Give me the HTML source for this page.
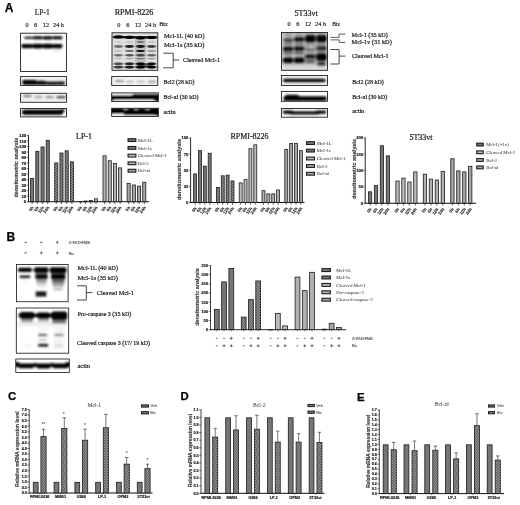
<!DOCTYPE html>
<html><head><meta charset="utf-8"><title>Figure</title>
<style>html,body{margin:0;padding:0;background:#fff;}svg{display:block;}</style>
</head><body>
<svg width="520" height="505" viewBox="0 0 520 505">
<defs>
<linearGradient id="gv" x1="0" y1="0" x2="0" y2="1"><stop offset="0" stop-color="#000" stop-opacity="0"/><stop offset="0.3" stop-color="#000" stop-opacity="1"/><stop offset="0.7" stop-color="#000" stop-opacity="1"/><stop offset="1" stop-color="#000" stop-opacity="0"/></linearGradient>
<radialGradient id="gr" cx="0.5" cy="0.5" r="0.5"><stop offset="0" stop-color="#000" stop-opacity="1"/><stop offset="0.55" stop-color="#000" stop-opacity="1"/><stop offset="1" stop-color="#000" stop-opacity="0"/></radialGradient>
<radialGradient id="gs" cx="0.5" cy="0.5" r="0.5"><stop offset="0" stop-color="#000" stop-opacity="1"/><stop offset="1" stop-color="#000" stop-opacity="0"/></radialGradient>
<radialGradient id="gw" cx="0.5" cy="0.5" r="0.5"><stop offset="0" stop-color="#fff" stop-opacity="1"/><stop offset="1" stop-color="#fff" stop-opacity="0"/></radialGradient>
<pattern id="chk" width="1.6" height="1.6" patternUnits="userSpaceOnUse"><rect width="1.6" height="1.6" fill="#b8b8b8"/><rect width="0.8" height="0.8" fill="#3a3a3a"/><rect x="0.8" y="0.8" width="0.8" height="0.8" fill="#3a3a3a"/></pattern>
<clipPath id="c1"><rect x="20.6" y="33.2" width="45.800000000000004" height="38.3"/></clipPath>
<filter id="fc1" filterUnits="userSpaceOnUse" x="14.600000000000001" y="27.200000000000003" width="57.800000000000004" height="50.3"><feGaussianBlur stdDeviation="1"/></filter>
<clipPath id="c2"><rect x="20.6" y="76.6" width="45.9" height="9.0"/></clipPath>
<filter id="fc2" filterUnits="userSpaceOnUse" x="14.600000000000001" y="70.6" width="57.9" height="21.0"><feGaussianBlur stdDeviation="1"/></filter>
<clipPath id="c3"><rect x="20.6" y="93.25" width="45.9" height="9.0"/></clipPath>
<filter id="fc3" filterUnits="userSpaceOnUse" x="14.600000000000001" y="87.25" width="57.9" height="21.0"><feGaussianBlur stdDeviation="1"/></filter>
<clipPath id="c4"><rect x="20.6" y="108.5" width="45.9" height="8.400000000000006"/></clipPath>
<filter id="fc4" filterUnits="userSpaceOnUse" x="14.600000000000001" y="102.5" width="57.9" height="20.400000000000006"><feGaussianBlur stdDeviation="1"/></filter>
<clipPath id="c5"><rect x="112.0" y="32.8" width="45.80000000000001" height="37.5"/></clipPath>
<clipPath id="c6"><rect x="111.7" y="76.6" width="46.10000000000001" height="8.800000000000011"/></clipPath>
<filter id="fc6" filterUnits="userSpaceOnUse" x="105.7" y="70.6" width="58.10000000000001" height="20.80000000000001"><feGaussianBlur stdDeviation="1"/></filter>
<clipPath id="c7"><rect x="111.7" y="92.9" width="46.60000000000001" height="8.699999999999989"/></clipPath>
<filter id="fc7" filterUnits="userSpaceOnUse" x="105.7" y="86.9" width="58.60000000000001" height="20.69999999999999"><feGaussianBlur stdDeviation="1"/></filter>
<clipPath id="c8"><rect x="111.7" y="108.25" width="46.60000000000001" height="8.25"/></clipPath>
<filter id="fc8" filterUnits="userSpaceOnUse" x="105.7" y="102.25" width="58.60000000000001" height="20.25"><feGaussianBlur stdDeviation="1"/></filter>
<clipPath id="c9"><rect x="281.5" y="32.5" width="46.0" height="37.8"/></clipPath>
<filter id="fc9" filterUnits="userSpaceOnUse" x="275.5" y="26.5" width="58.0" height="49.8"><feGaussianBlur stdDeviation="1"/></filter>
<clipPath id="c10"><rect x="281.4" y="75.5" width="46.10000000000002" height="9.900000000000006"/></clipPath>
<filter id="fc10" filterUnits="userSpaceOnUse" x="275.4" y="69.5" width="58.10000000000002" height="21.900000000000006"><feGaussianBlur stdDeviation="1"/></filter>
<clipPath id="c11"><rect x="281.4" y="91.4" width="46.10000000000002" height="9.899999999999991"/></clipPath>
<filter id="fc11" filterUnits="userSpaceOnUse" x="275.4" y="85.4" width="58.10000000000002" height="21.89999999999999"><feGaussianBlur stdDeviation="1"/></filter>
<clipPath id="c12"><rect x="281.4" y="108.5" width="46.10000000000002" height="8.700000000000003"/></clipPath>
<filter id="fc12" filterUnits="userSpaceOnUse" x="275.4" y="102.5" width="58.10000000000002" height="20.700000000000003"><feGaussianBlur stdDeviation="1"/></filter>
<clipPath id="c13"><rect x="16.5" y="264.5" width="51.599999999999994" height="37.25"/></clipPath>
<filter id="fc13" filterUnits="userSpaceOnUse" x="10.5" y="258.5" width="63.599999999999994" height="49.25"><feGaussianBlur stdDeviation="1"/></filter>
<clipPath id="c14"><rect x="16.3" y="308" width="52.400000000000006" height="45.19999999999999"/></clipPath>
<filter id="fc14" filterUnits="userSpaceOnUse" x="10.3" y="302" width="64.4" height="57.19999999999999"><feGaussianBlur stdDeviation="1"/></filter>
<clipPath id="c15"><rect x="15.8" y="359" width="53.5" height="13.399999999999977"/></clipPath>
<filter id="fc15" filterUnits="userSpaceOnUse" x="9.8" y="353" width="65.5" height="25.399999999999977"><feGaussianBlur stdDeviation="1"/></filter>
</defs>
<rect width="520" height="505" fill="#fff"/>
<text x="4.8" y="12.3" font-family='"Liberation Sans", sans-serif' font-size="12" font-weight="bold" text-anchor="start" fill="#000" stroke="#000" stroke-width="0.25">A</text>
<text x="6.5" y="240.8" font-family='"Liberation Sans", sans-serif' font-size="12" font-weight="bold" text-anchor="start" fill="#000" stroke="#000" stroke-width="0.25">B</text>
<text x="8.1" y="400.1" font-family='"Liberation Sans", sans-serif' font-size="11.4" font-weight="bold" text-anchor="start" fill="#000" stroke="#000" stroke-width="0.25">C</text>
<text x="180.6" y="400.3" font-family='"Liberation Sans", sans-serif' font-size="11.4" font-weight="bold" text-anchor="start" fill="#000" stroke="#000" stroke-width="0.25">D</text>
<text x="356.9" y="400.8" font-family='"Liberation Sans", sans-serif' font-size="11.4" font-weight="bold" text-anchor="start" fill="#000" stroke="#000" stroke-width="0.25">E</text>
<text x="42.2" y="15" font-family='"Liberation Serif", serif' font-size="8" font-weight="normal" text-anchor="middle" fill="#222" stroke="#222" stroke-width="0.22" textLength="15" lengthAdjust="spacingAndGlyphs">LP-1</text>
<text x="134" y="15" font-family='"Liberation Serif", serif' font-size="8" font-weight="normal" text-anchor="middle" fill="#222" stroke="#222" stroke-width="0.22" textLength="38.5" lengthAdjust="spacingAndGlyphs">RPMI-8226</text>
<text x="306.1" y="15.6" font-family='"Liberation Serif", serif' font-size="8" font-weight="normal" text-anchor="middle" fill="#222" stroke="#222" stroke-width="0.22" textLength="23" lengthAdjust="spacingAndGlyphs">5T33vt</text>
<text x="27" y="27.3" font-family='"Liberation Serif", serif' font-size="6.3" font-weight="normal" text-anchor="middle" fill="#333" stroke="#333" stroke-width="0.22">0</text>
<text x="35.5" y="27.3" font-family='"Liberation Serif", serif' font-size="6.3" font-weight="normal" text-anchor="middle" fill="#333" stroke="#333" stroke-width="0.22">6</text>
<text x="46" y="27.3" font-family='"Liberation Serif", serif' font-size="6.3" font-weight="normal" text-anchor="middle" fill="#333" stroke="#333" stroke-width="0.22">12</text>
<text x="58.5" y="27.3" font-family='"Liberation Serif", serif' font-size="6.3" font-weight="normal" text-anchor="middle" fill="#333" stroke="#333" stroke-width="0.22">24 h</text>
<text x="118.8" y="27.3" font-family='"Liberation Serif", serif' font-size="6.3" font-weight="normal" text-anchor="middle" fill="#333" stroke="#333" stroke-width="0.22">0</text>
<text x="127.8" y="27.3" font-family='"Liberation Serif", serif' font-size="6.3" font-weight="normal" text-anchor="middle" fill="#333" stroke="#333" stroke-width="0.22">6</text>
<text x="138.1" y="27.3" font-family='"Liberation Serif", serif' font-size="6.3" font-weight="normal" text-anchor="middle" fill="#333" stroke="#333" stroke-width="0.22">12</text>
<text x="150.6" y="27.3" font-family='"Liberation Serif", serif' font-size="6.3" font-weight="normal" text-anchor="middle" fill="#333" stroke="#333" stroke-width="0.22">24 h</text>
<text x="289" y="26.4" font-family='"Liberation Serif", serif' font-size="6.3" font-weight="normal" text-anchor="middle" fill="#333" stroke="#333" stroke-width="0.22">0</text>
<text x="297.8" y="26.4" font-family='"Liberation Serif", serif' font-size="6.3" font-weight="normal" text-anchor="middle" fill="#333" stroke="#333" stroke-width="0.22">6</text>
<text x="308.1" y="26.4" font-family='"Liberation Serif", serif' font-size="6.3" font-weight="normal" text-anchor="middle" fill="#333" stroke="#333" stroke-width="0.22">12</text>
<text x="320.6" y="26.4" font-family='"Liberation Serif", serif' font-size="6.3" font-weight="normal" text-anchor="middle" fill="#333" stroke="#333" stroke-width="0.22">24 h</text>
<text x="159.2" y="25.7" font-family='"Liberation Serif", serif' font-size="6.2" font-weight="normal" text-anchor="start" fill="#333" stroke="#333" stroke-width="0.22" textLength="8.6" lengthAdjust="spacingAndGlyphs">Btz</text>
<text x="332.3" y="26.3" font-family='"Liberation Serif", serif' font-size="5.8" font-weight="normal" text-anchor="start" fill="#333" stroke="#333" stroke-width="0.22" textLength="7.8" lengthAdjust="spacingAndGlyphs">Btz</text>
<g clip-path="url(#c1)">
<rect x="20.60" y="33.20" width="45.80" height="38.30" fill="#fff" stroke="none" stroke-width="0"/>
<g filter="url(#fc1)">
<rect x="24.20" y="36.80" width="8.30" height="2.00" rx="0.60" fill="#000" opacity="0.85"/>
<rect x="33.20" y="36.30" width="9.00" height="3.00" rx="0.90" fill="#000" opacity="1.0"/>
<rect x="43.00" y="36.20" width="9.30" height="3.20" rx="0.96" fill="#000" opacity="1.0"/>
<rect x="53.00" y="36.30" width="9.30" height="3.00" rx="0.90" fill="#000" opacity="1.0"/>
<rect x="25.00" y="37.00" width="36.00" height="1.60" rx="0.48" fill="#000" opacity="0.9"/>
<rect x="21.50" y="43.90" width="10.80" height="4.40" rx="1.32" fill="#000" opacity="1.0"/>
<rect x="32.90" y="43.80" width="9.40" height="4.60" rx="1.38" fill="#000" opacity="1.0"/>
<rect x="42.90" y="43.80" width="9.60" height="4.60" rx="1.38" fill="#000" opacity="1.0"/>
<rect x="53.00" y="44.00" width="9.30" height="4.20" rx="1.26" fill="#000" opacity="1.0"/>
<rect x="22.00" y="44.40" width="40.00" height="3.40" rx="1.02" fill="#000" opacity="1.0"/>
<rect x="53.00" y="49.50" width="8.00" height="2.00" rx="0.60" fill="#000" opacity="0.1"/>
</g>
</g>
<rect x="20.60" y="33.20" width="45.80" height="38.30" fill="none" stroke="#111" stroke-width="0.85"/>
<g clip-path="url(#c2)">
<rect x="20.60" y="76.60" width="45.90" height="9.00" fill="#fff" stroke="none" stroke-width="0"/>
<g filter="url(#fc2)">
<rect x="22.50" y="81.70" width="42.00" height="3.00" rx="0.90" fill="#000" opacity="1.0"/>
<rect x="22.50" y="79.90" width="14.00" height="4.60" rx="1.38" fill="#000" opacity="1.0"/>
<rect x="36.50" y="80.70" width="9.00" height="3.80" rx="1.14" fill="#000" opacity="0.9"/>
<rect x="48.00" y="82.10" width="8.00" height="2.60" rx="0.78" fill="#000" opacity="0.9"/>
<rect x="58.00" y="81.70" width="7.00" height="2.60" rx="0.78" fill="#000" opacity="0.9"/>
<rect x="13.50" y="78.00" width="60.00" height="3.00" rx="0.90" fill="#000" opacity="0.08"/>
</g>
</g>
<rect x="20.60" y="76.60" width="45.90" height="9.00" fill="none" stroke="#111" stroke-width="0.85"/>
<g clip-path="url(#c3)">
<rect x="20.60" y="93.25" width="45.90" height="9.00" fill="#fff" stroke="none" stroke-width="0"/>
<g filter="url(#fc3)">
<rect x="23.50" y="95.20" width="8.00" height="1.80" rx="0.54" fill="#000" opacity="0.6"/>
<rect x="34.75" y="96.30" width="7.50" height="1.60" rx="0.48" fill="#000" opacity="0.4"/>
<rect x="45.50" y="96.30" width="8.00" height="1.60" rx="0.48" fill="#000" opacity="0.5"/>
<rect x="56.50" y="95.90" width="9.00" height="2.40" rx="0.72" fill="#000" opacity="0.7"/>
<rect x="13.50" y="87.50" width="60.00" height="20.00" fill="#000" opacity="0.05"/>
</g>
</g>
<rect x="20.60" y="93.25" width="45.90" height="9.00" fill="none" stroke="#111" stroke-width="0.85"/>
<g clip-path="url(#c4)">
<rect x="20.60" y="108.50" width="45.90" height="8.40" fill="#fff" stroke="none" stroke-width="0"/>
<g filter="url(#fc4)">
<rect x="22.00" y="110.00" width="41.00" height="4.60" rx="1.38" fill="#000" opacity="1.0"/>
<rect x="23.50" y="109.60" width="38.00" height="5.40" rx="1.62" fill="#000" opacity="0.7"/>
<rect x="60.25" y="109.30" width="4.50" height="2.60" rx="0.78" fill="#000" opacity="1.0"/>
</g>
</g>
<rect x="20.60" y="108.50" width="45.90" height="8.40" fill="none" stroke="#111" stroke-width="0.85"/>
<g clip-path="url(#c5)">
<rect x="112.00" y="32.80" width="45.80" height="37.50" fill="#fff" stroke="none" stroke-width="0"/>
<rect x="111.50" y="33.00" width="47.00" height="38.00" fill="#000" opacity="0.13"/>
<rect x="113.25" y="35.80" width="43.50" height="3.00" fill="url(#gv)" opacity="0.9"/>
<rect x="111.90" y="34.80" width="13.20" height="4.20" fill="url(#gr)" opacity="1.0"/>
<rect x="122.90" y="35.20" width="13.20" height="4.20" fill="url(#gr)" opacity="1.0"/>
<rect x="133.90" y="35.80" width="13.20" height="4.20" fill="url(#gr)" opacity="1.0"/>
<rect x="144.90" y="35.40" width="13.20" height="4.20" fill="url(#gr)" opacity="1.0"/>
<rect x="135.00" y="37.00" width="11.00" height="34.00" rx="3.30" fill="#000" opacity="0.13"/>
<rect x="112.72" y="44.50" width="11.55" height="3.80" fill="url(#gr)" opacity="0.5"/>
<rect x="113.00" y="49.40" width="11.00" height="3.00" fill="url(#gr)" opacity="0.12"/>
<rect x="112.72" y="53.70" width="11.55" height="3.20" fill="url(#gr)" opacity="0.5"/>
<rect x="113.00" y="57.40" width="11.00" height="2.40" fill="url(#gr)" opacity="0.15"/>
<rect x="112.45" y="62.00" width="12.10" height="3.60" fill="url(#gr)" opacity="0.65"/>
<rect x="112.17" y="65.20" width="12.65" height="3.80" fill="url(#gr)" opacity="0.75"/>
<rect x="113.55" y="40.90" width="9.90" height="2.20" fill="url(#gr)" opacity="0.08"/>
<rect x="123.72" y="44.50" width="11.55" height="3.80" fill="url(#gr)" opacity="0.85"/>
<rect x="124.00" y="49.40" width="11.00" height="3.00" fill="url(#gr)" opacity="0.5"/>
<rect x="123.72" y="53.70" width="11.55" height="3.20" fill="url(#gr)" opacity="0.6"/>
<rect x="124.00" y="57.40" width="11.00" height="2.40" fill="url(#gr)" opacity="0.25"/>
<rect x="123.45" y="62.00" width="12.10" height="3.60" fill="url(#gr)" opacity="0.85"/>
<rect x="123.17" y="65.20" width="12.65" height="3.80" fill="url(#gr)" opacity="0.9"/>
<rect x="124.55" y="40.90" width="9.90" height="2.20" fill="url(#gr)" opacity="0.12"/>
<rect x="134.72" y="44.50" width="11.55" height="3.80" fill="url(#gr)" opacity="0.9"/>
<rect x="135.00" y="49.40" width="11.00" height="3.00" fill="url(#gr)" opacity="0.9"/>
<rect x="134.72" y="53.70" width="11.55" height="3.20" fill="url(#gr)" opacity="0.65"/>
<rect x="135.00" y="57.40" width="11.00" height="2.40" fill="url(#gr)" opacity="0.35"/>
<rect x="134.45" y="62.00" width="12.10" height="3.60" fill="url(#gr)" opacity="1.0"/>
<rect x="134.18" y="65.20" width="12.65" height="3.80" fill="url(#gr)" opacity="1.0"/>
<rect x="135.55" y="40.90" width="9.90" height="2.20" fill="url(#gr)" opacity="0.4"/>
<rect x="145.72" y="44.50" width="11.55" height="3.80" fill="url(#gr)" opacity="0.7"/>
<rect x="146.00" y="49.40" width="11.00" height="3.00" fill="url(#gr)" opacity="0.3"/>
<rect x="145.72" y="53.70" width="11.55" height="3.20" fill="url(#gr)" opacity="0.55"/>
<rect x="146.00" y="57.40" width="11.00" height="2.40" fill="url(#gr)" opacity="0.3"/>
<rect x="145.45" y="62.00" width="12.10" height="3.60" fill="url(#gr)" opacity="0.9"/>
<rect x="145.18" y="65.20" width="12.65" height="3.80" fill="url(#gr)" opacity="1.0"/>
<rect x="146.55" y="40.90" width="9.90" height="2.20" fill="url(#gr)" opacity="0.12"/>
<rect x="135.50" y="63.00" width="20.00" height="5.00" fill="url(#gr)" opacity="0.55"/>
</g>
<rect x="112.00" y="32.80" width="45.80" height="37.50" fill="none" stroke="#111" stroke-width="0.85"/>
<g clip-path="url(#c6)">
<rect x="111.70" y="76.60" width="46.10" height="8.80" fill="#fff" stroke="none" stroke-width="0"/>
<g filter="url(#fc6)">
<rect x="115.25" y="80.35" width="8.50" height="1.70" rx="0.51" fill="#000" opacity="0.5"/>
<rect x="126.00" y="80.85" width="8.00" height="1.70" rx="0.51" fill="#000" opacity="0.3"/>
<rect x="137.00" y="80.85" width="8.00" height="1.70" rx="0.51" fill="#000" opacity="0.3"/>
<rect x="148.00" y="80.85" width="8.00" height="1.70" rx="0.51" fill="#000" opacity="0.45"/>
<rect x="105.00" y="71.50" width="60.00" height="20.00" fill="#000" opacity="0.04"/>
</g>
</g>
<rect x="111.70" y="76.60" width="46.10" height="8.80" fill="none" stroke="#111" stroke-width="0.85"/>
<g clip-path="url(#c7)">
<rect x="111.70" y="92.90" width="46.60" height="8.70" fill="#fff" stroke="none" stroke-width="0"/>
<g filter="url(#fc7)">
<rect x="105.00" y="94.70" width="60.00" height="5.40" rx="1.62" fill="#000" opacity="1.0"/>
<rect x="130.00" y="96.30" width="30.00" height="5.00" rx="1.50" fill="#000" opacity="1.0"/>
<rect x="105.00" y="93.70" width="60.00" height="7.40" rx="2.22" fill="#000" opacity="0.5"/>
<rect x="111.00" y="92.50" width="21.00" height="2.60" rx="0.78" fill="#fff" opacity="1.0"/>
<rect x="114.00" y="100.00" width="40.00" height="2.00" rx="0.60" fill="#fff" opacity="1.0"/>
</g>
</g>
<rect x="111.70" y="92.90" width="46.60" height="8.70" fill="none" stroke="#111" stroke-width="0.85"/>
<g clip-path="url(#c8)">
<rect x="111.70" y="108.25" width="46.60" height="8.25" fill="#fff" stroke="none" stroke-width="0"/>
<g filter="url(#fc8)">
<rect x="105.00" y="108.30" width="60.00" height="6.60" rx="1.98" fill="#000" opacity="1.0"/>
<rect x="105.00" y="107.10" width="60.00" height="9.00" rx="2.70" fill="#000" opacity="0.55"/>
<rect x="124.10" y="108.10" width="3.00" height="1.40" rx="0.42" fill="#fff" opacity="0.9"/>
<rect x="134.70" y="108.10" width="3.00" height="1.40" rx="0.42" fill="#fff" opacity="0.9"/>
<rect x="146.00" y="108.10" width="3.00" height="1.40" rx="0.42" fill="#fff" opacity="0.9"/>
<rect x="110.00" y="114.10" width="14.00" height="3.40" rx="1.02" fill="#fff" opacity="1.0"/>
<rect x="121.00" y="115.60" width="34.00" height="1.60" rx="0.48" fill="#fff" opacity="0.9"/>
</g>
</g>
<rect x="111.70" y="108.25" width="46.60" height="8.25" fill="none" stroke="#111" stroke-width="0.85"/>
<text x="164" y="37.7" font-family='"Liberation Serif", serif' font-size="6.5" font-weight="normal" text-anchor="start" fill="#222" stroke="#222" stroke-width="0.22" textLength="40.5" lengthAdjust="spacingAndGlyphs">Mcl-1L (40 kD)</text>
<text x="164" y="47" font-family='"Liberation Serif", serif' font-size="6.5" font-weight="normal" text-anchor="start" fill="#222" stroke="#222" stroke-width="0.22" textLength="40.5" lengthAdjust="spacingAndGlyphs">Mcl-1s  (35 kD)</text>
<text x="183" y="62.4" font-family='"Liberation Serif", serif' font-size="6.5" font-weight="normal" text-anchor="start" fill="#222" stroke="#222" stroke-width="0.22" textLength="37" lengthAdjust="spacingAndGlyphs">Cleaved Mcl-1</text>
<text x="163.5" y="84.2" font-family='"Liberation Serif", serif' font-size="5.8" font-weight="normal" text-anchor="start" fill="#222" stroke="#222" stroke-width="0.22" textLength="31" lengthAdjust="spacingAndGlyphs">Bcl2 (28 kD)</text>
<text x="163.5" y="99" font-family='"Liberation Serif", serif' font-size="5.8" font-weight="normal" text-anchor="start" fill="#222" stroke="#222" stroke-width="0.22" textLength="35" lengthAdjust="spacingAndGlyphs">Bcl-xl (30 kD)</text>
<text x="163.5" y="114" font-family='"Liberation Serif", serif' font-size="5.8" font-weight="normal" text-anchor="start" fill="#222" stroke="#222" stroke-width="0.22" textLength="12" lengthAdjust="spacingAndGlyphs">actin</text>
<path d="M163.2 53.2 H173.2 V67.8 H163.2 M173.2 60 H179.3" fill="none" stroke="#333" stroke-width="0.9"/>
<g clip-path="url(#c9)">
<rect x="281.50" y="32.50" width="46.00" height="37.80" fill="#fff" stroke="none" stroke-width="0"/>
<g filter="url(#fc9)">
<rect x="274.50" y="26.00" width="60.00" height="50.00" fill="#000" opacity="0.36"/>
<rect x="274.50" y="65.80" width="60.00" height="5.60" rx="1.68" fill="#fff" opacity="0.6"/>
<rect x="279.50" y="26.00" width="4.00" height="50.00" rx="1.20" fill="#fff" opacity="0.45"/>
<rect x="326.25" y="26.00" width="3.50" height="50.00" rx="1.05" fill="#fff" opacity="0.4"/>
<rect x="282.96" y="38.60" width="10.21" height="3.40" rx="1.02" fill="#000" opacity="0.6"/>
<rect x="293.51" y="37.20" width="11.35" height="4.20" rx="1.26" fill="#000" opacity="0.9"/>
<rect x="304.64" y="35.30" width="11.35" height="6.60" rx="1.98" fill="#000" opacity="1.0"/>
<rect x="315.76" y="35.30" width="11.35" height="6.60" rx="1.98" fill="#000" opacity="1.0"/>
<rect x="282.39" y="43.20" width="11.35" height="2.00" rx="0.60" fill="#000" opacity="0.25"/>
<rect x="293.51" y="43.20" width="11.35" height="2.00" rx="0.60" fill="#000" opacity="0.25"/>
<rect x="304.64" y="43.20" width="11.35" height="2.00" rx="0.60" fill="#000" opacity="0.25"/>
<rect x="315.76" y="43.20" width="11.35" height="2.00" rx="0.60" fill="#000" opacity="0.25"/>
<rect x="282.39" y="46.90" width="11.35" height="3.80" rx="1.14" fill="#000" opacity="0.95"/>
<rect x="293.51" y="46.70" width="11.35" height="3.80" rx="1.14" fill="#000" opacity="0.95"/>
<rect x="304.64" y="48.00" width="11.35" height="3.00" rx="0.90" fill="#000" opacity="0.3"/>
<rect x="315.76" y="46.50" width="11.35" height="3.80" rx="1.14" fill="#000" opacity="0.8"/>
<rect x="282.39" y="51.80" width="11.35" height="2.00" rx="0.60" fill="#000" opacity="0.5"/>
<rect x="293.51" y="51.80" width="11.35" height="2.00" rx="0.60" fill="#000" opacity="0.5"/>
<rect x="315.76" y="51.50" width="11.35" height="2.00" rx="0.60" fill="#000" opacity="0.3"/>
<rect x="282.39" y="57.80" width="11.35" height="5.00" rx="1.50" fill="#000" opacity="1.0"/>
<rect x="293.51" y="57.80" width="11.35" height="5.00" rx="1.50" fill="#000" opacity="1.0"/>
<rect x="304.64" y="54.60" width="11.35" height="4.00" rx="1.20" fill="#000" opacity="0.85"/>
<rect x="315.76" y="53.70" width="11.35" height="6.60" rx="1.98" fill="#000" opacity="1.0"/>
<rect x="305.21" y="59.90" width="10.21" height="2.60" rx="0.78" fill="#000" opacity="0.5"/>
<rect x="317.47" y="63.50" width="7.94" height="2.40" rx="0.72" fill="#000" opacity="1.0"/>
<rect x="316.33" y="60.25" width="10.21" height="2.50" rx="0.75" fill="#000" opacity="0.4"/>
<rect x="309.31" y="45.00" width="4.00" height="3.00" rx="0.90" fill="#fff" opacity="0.25"/>
<rect x="293.00" y="33.00" width="1.40" height="34.00" rx="0.42" fill="#fff" opacity="0.3"/>
<rect x="304.10" y="33.00" width="1.40" height="34.00" rx="0.42" fill="#fff" opacity="0.3"/>
<rect x="315.30" y="33.00" width="1.40" height="34.00" rx="0.42" fill="#fff" opacity="0.3"/>
<rect x="317.47" y="63.80" width="7.94" height="2.00" rx="0.60" fill="#000" opacity="0.8"/>
</g>
</g>
<rect x="281.50" y="32.50" width="46.00" height="37.80" fill="none" stroke="#111" stroke-width="0.85"/>
<g clip-path="url(#c10)">
<rect x="281.40" y="75.50" width="46.10" height="9.90" fill="#fff" stroke="none" stroke-width="0"/>
<g filter="url(#fc10)">
<rect x="283.05" y="78.90" width="42.50" height="3.00" rx="0.90" fill="#000" opacity="1.0"/>
<rect x="285.30" y="78.60" width="38.00" height="3.60" rx="1.08" fill="#000" opacity="0.6"/>
<rect x="274.50" y="71.00" width="60.00" height="20.00" fill="#000" opacity="0.05"/>
</g>
</g>
<rect x="281.40" y="75.50" width="46.10" height="9.90" fill="none" stroke="#111" stroke-width="0.85"/>
<g clip-path="url(#c11)">
<rect x="281.40" y="91.40" width="46.10" height="9.90" fill="#fff" stroke="none" stroke-width="0"/>
<g filter="url(#fc11)">
<rect x="283.50" y="96.30" width="43.00" height="4.60" rx="1.38" fill="#000" opacity="1.0"/>
<rect x="285.00" y="94.80" width="14.00" height="5.60" rx="1.68" fill="#000" opacity="1.0"/>
<rect x="285.00" y="97.50" width="40.00" height="3.00" rx="0.90" fill="#000" opacity="0.8"/>
</g>
</g>
<rect x="281.40" y="91.40" width="46.10" height="9.90" fill="none" stroke="#111" stroke-width="0.85"/>
<g clip-path="url(#c12)">
<rect x="281.40" y="108.50" width="46.10" height="8.70" fill="#fff" stroke="none" stroke-width="0"/>
<g filter="url(#fc12)">
<rect x="289.50" y="111.50" width="30.00" height="3.00" rx="0.90" fill="#000" opacity="1.0"/>
<rect x="283.00" y="110.60" width="10.00" height="2.80" rx="0.84" fill="#000" opacity="1.0"/>
<rect x="316.00" y="110.60" width="10.00" height="2.80" rx="0.84" fill="#000" opacity="1.0"/>
<rect x="283.50" y="111.40" width="42.00" height="2.40" rx="0.72" fill="#000" opacity="0.9"/>
</g>
</g>
<rect x="281.40" y="108.50" width="46.10" height="8.70" fill="none" stroke="#111" stroke-width="0.85"/>
<text x="351.6" y="36.8" font-family='"Liberation Serif", serif' font-size="6.3" font-weight="normal" text-anchor="start" fill="#222" stroke="#222" stroke-width="0.22" textLength="36.3" lengthAdjust="spacingAndGlyphs">Mcl-1 (35 kD)</text>
<text x="351.6" y="43.7" font-family='"Liberation Serif", serif' font-size="6.3" font-weight="normal" text-anchor="start" fill="#222" stroke="#222" stroke-width="0.22" textLength="40.2" lengthAdjust="spacingAndGlyphs">Mcl-1v (31 kD)</text>
<text x="352" y="58" font-family='"Liberation Serif", serif' font-size="6.3" font-weight="normal" text-anchor="start" fill="#222" stroke="#222" stroke-width="0.22" textLength="36.5" lengthAdjust="spacingAndGlyphs">Cleaved Mcl-1</text>
<text x="352.2" y="84" font-family='"Liberation Serif", serif' font-size="5.8" font-weight="normal" text-anchor="start" fill="#222" stroke="#222" stroke-width="0.22" textLength="31.5" lengthAdjust="spacingAndGlyphs">Bcl2 (28 kD)</text>
<text x="352.2" y="98.5" font-family='"Liberation Serif", serif' font-size="5.8" font-weight="normal" text-anchor="start" fill="#222" stroke="#222" stroke-width="0.22" textLength="35" lengthAdjust="spacingAndGlyphs">Bcl-xl (30 kD)</text>
<text x="352.2" y="112.8" font-family='"Liberation Serif", serif' font-size="5.8" font-weight="normal" text-anchor="start" fill="#222" stroke="#222" stroke-width="0.22" textLength="12" lengthAdjust="spacingAndGlyphs">actin</text>
<path d="M330.4 37.4 H339.1 V34 H345.4 M330.4 39.9 H339.1 V42.4 H345.4" fill="none" stroke="#333" stroke-width="0.8"/>
<path d="M330.4 49.5 H339.1 V64 H330.4 M339.1 56.1 H345.4" fill="none" stroke="#333" stroke-width="0.9"/>
<line x1="28.50" y1="135.20" x2="28.50" y2="202.20" stroke="#111" stroke-width="0.9"/>
<line x1="28.05" y1="201.70" x2="149.00" y2="201.70" stroke="#111" stroke-width="1.1"/>
<line x1="26.70" y1="201.70" x2="28.50" y2="201.70" stroke="#111" stroke-width="0.6"/>
<text x="26.2" y="203.248" font-family='"Liberation Sans", sans-serif' font-size="4.3" font-weight="bold" text-anchor="end" fill="#111" stroke="#111" stroke-width="0.15">0</text>
<line x1="26.70" y1="196.18" x2="28.50" y2="196.18" stroke="#111" stroke-width="0.6"/>
<text x="26.2" y="197.73133333333334" font-family='"Liberation Sans", sans-serif' font-size="4.3" font-weight="bold" text-anchor="end" fill="#111" stroke="#111" stroke-width="0.15">10</text>
<line x1="26.70" y1="190.67" x2="28.50" y2="190.67" stroke="#111" stroke-width="0.6"/>
<text x="26.2" y="192.21466666666666" font-family='"Liberation Sans", sans-serif' font-size="4.3" font-weight="bold" text-anchor="end" fill="#111" stroke="#111" stroke-width="0.15">20</text>
<line x1="26.70" y1="185.15" x2="28.50" y2="185.15" stroke="#111" stroke-width="0.6"/>
<text x="26.2" y="186.69799999999998" font-family='"Liberation Sans", sans-serif' font-size="4.3" font-weight="bold" text-anchor="end" fill="#111" stroke="#111" stroke-width="0.15">30</text>
<line x1="26.70" y1="179.63" x2="28.50" y2="179.63" stroke="#111" stroke-width="0.6"/>
<text x="26.2" y="181.18133333333333" font-family='"Liberation Sans", sans-serif' font-size="4.3" font-weight="bold" text-anchor="end" fill="#111" stroke="#111" stroke-width="0.15">40</text>
<line x1="26.70" y1="174.12" x2="28.50" y2="174.12" stroke="#111" stroke-width="0.6"/>
<text x="26.2" y="175.66466666666668" font-family='"Liberation Sans", sans-serif' font-size="4.3" font-weight="bold" text-anchor="end" fill="#111" stroke="#111" stroke-width="0.15">50</text>
<line x1="26.70" y1="168.60" x2="28.50" y2="168.60" stroke="#111" stroke-width="0.6"/>
<text x="26.2" y="170.148" font-family='"Liberation Sans", sans-serif' font-size="4.3" font-weight="bold" text-anchor="end" fill="#111" stroke="#111" stroke-width="0.15">60</text>
<line x1="26.70" y1="163.08" x2="28.50" y2="163.08" stroke="#111" stroke-width="0.6"/>
<text x="26.2" y="164.63133333333332" font-family='"Liberation Sans", sans-serif' font-size="4.3" font-weight="bold" text-anchor="end" fill="#111" stroke="#111" stroke-width="0.15">70</text>
<line x1="26.70" y1="157.57" x2="28.50" y2="157.57" stroke="#111" stroke-width="0.6"/>
<text x="26.2" y="159.11466666666666" font-family='"Liberation Sans", sans-serif' font-size="4.3" font-weight="bold" text-anchor="end" fill="#111" stroke="#111" stroke-width="0.15">80</text>
<line x1="26.70" y1="152.05" x2="28.50" y2="152.05" stroke="#111" stroke-width="0.6"/>
<text x="26.2" y="153.598" font-family='"Liberation Sans", sans-serif' font-size="4.3" font-weight="bold" text-anchor="end" fill="#111" stroke="#111" stroke-width="0.15">90</text>
<line x1="26.70" y1="146.53" x2="28.50" y2="146.53" stroke="#111" stroke-width="0.6"/>
<text x="26.2" y="148.08133333333333" font-family='"Liberation Sans", sans-serif' font-size="4.3" font-weight="bold" text-anchor="end" fill="#111" stroke="#111" stroke-width="0.15">100</text>
<line x1="26.70" y1="141.02" x2="28.50" y2="141.02" stroke="#111" stroke-width="0.6"/>
<text x="26.2" y="142.56466666666668" font-family='"Liberation Sans", sans-serif' font-size="4.3" font-weight="bold" text-anchor="end" fill="#111" stroke="#111" stroke-width="0.15">110</text>
<line x1="26.70" y1="135.50" x2="28.50" y2="135.50" stroke="#111" stroke-width="0.6"/>
<text x="26.2" y="137.048" font-family='"Liberation Sans", sans-serif' font-size="4.3" font-weight="bold" text-anchor="end" fill="#111" stroke="#111" stroke-width="0.15">120</text>
<text x="17.8" y="167.6" font-family='"Liberation Sans", sans-serif' font-size="5.3" font-weight="bold" text-anchor="middle" fill="#3a3a3a" stroke="#3a3a3a" stroke-width="0.15" textLength="60" lengthAdjust="spacingAndGlyphs" transform="rotate(-90 17.8 167.6)">densitometric analysis</text>
<rect x="30.60" y="178.38" width="3.10" height="23.32" fill="#767676" stroke="#1c1c1c" stroke-width="0.8"/>
<line x1="32.15" y1="201.70" x2="32.15" y2="203.90" stroke="#111" stroke-width="0.7"/>
<text x="33.85" y="207.7" font-family='"Liberation Sans", sans-serif' font-size="4.2" font-weight="bold" text-anchor="end" fill="#222" stroke="#222" stroke-width="0.12" transform="rotate(-55 33.85 207.7)">0h</text>
<rect x="35.80" y="151.35" width="3.10" height="50.35" fill="#767676" stroke="#1c1c1c" stroke-width="0.8"/>
<line x1="37.35" y1="201.70" x2="37.35" y2="203.90" stroke="#111" stroke-width="0.7"/>
<text x="39.050000000000004" y="207.7" font-family='"Liberation Sans", sans-serif' font-size="4.2" font-weight="bold" text-anchor="end" fill="#222" stroke="#222" stroke-width="0.12" transform="rotate(-55 39.050000000000004 207.7)">6h</text>
<rect x="41.00" y="146.93" width="3.10" height="54.77" fill="#767676" stroke="#1c1c1c" stroke-width="0.8"/>
<line x1="42.55" y1="201.70" x2="42.55" y2="203.90" stroke="#111" stroke-width="0.7"/>
<text x="44.25000000000001" y="207.7" font-family='"Liberation Sans", sans-serif' font-size="4.2" font-weight="bold" text-anchor="end" fill="#222" stroke="#222" stroke-width="0.12" transform="rotate(-55 44.25000000000001 207.7)">12h</text>
<rect x="46.20" y="140.31" width="3.10" height="61.39" fill="#767676" stroke="#1c1c1c" stroke-width="0.8"/>
<line x1="47.75" y1="201.70" x2="47.75" y2="203.90" stroke="#111" stroke-width="0.7"/>
<text x="49.45" y="207.7" font-family='"Liberation Sans", sans-serif' font-size="4.2" font-weight="bold" text-anchor="end" fill="#222" stroke="#222" stroke-width="0.12" transform="rotate(-55 49.45 207.7)">24h</text>
<rect x="54.73" y="162.93" width="3.10" height="38.77" fill="url(#chk)" stroke="#1c1c1c" stroke-width="0.8"/>
<line x1="56.28" y1="201.70" x2="56.28" y2="203.90" stroke="#111" stroke-width="0.7"/>
<text x="57.980000000000004" y="207.7" font-family='"Liberation Sans", sans-serif' font-size="4.2" font-weight="bold" text-anchor="end" fill="#222" stroke="#222" stroke-width="0.12" transform="rotate(-55 57.980000000000004 207.7)">0h</text>
<rect x="59.93" y="153.00" width="3.10" height="48.70" fill="url(#chk)" stroke="#1c1c1c" stroke-width="0.8"/>
<line x1="61.48" y1="201.70" x2="61.48" y2="203.90" stroke="#111" stroke-width="0.7"/>
<text x="63.18000000000001" y="207.7" font-family='"Liberation Sans", sans-serif' font-size="4.2" font-weight="bold" text-anchor="end" fill="#222" stroke="#222" stroke-width="0.12" transform="rotate(-55 63.18000000000001 207.7)">6h</text>
<rect x="65.13" y="150.80" width="3.10" height="50.90" fill="url(#chk)" stroke="#1c1c1c" stroke-width="0.8"/>
<line x1="66.68" y1="201.70" x2="66.68" y2="203.90" stroke="#111" stroke-width="0.7"/>
<text x="68.38000000000001" y="207.7" font-family='"Liberation Sans", sans-serif' font-size="4.2" font-weight="bold" text-anchor="end" fill="#222" stroke="#222" stroke-width="0.12" transform="rotate(-55 68.38000000000001 207.7)">12h</text>
<rect x="70.33" y="161.83" width="3.10" height="39.87" fill="url(#chk)" stroke="#1c1c1c" stroke-width="0.8"/>
<line x1="71.88" y1="201.70" x2="71.88" y2="203.90" stroke="#111" stroke-width="0.7"/>
<text x="73.58000000000001" y="207.7" font-family='"Liberation Sans", sans-serif' font-size="4.2" font-weight="bold" text-anchor="end" fill="#222" stroke="#222" stroke-width="0.12" transform="rotate(-55 73.58000000000001 207.7)">24h</text>
<rect x="78.86" y="201.55" width="3.10" height="0.15" fill="#bcbcbc" stroke="#1c1c1c" stroke-width="0.8"/>
<line x1="80.41" y1="201.70" x2="80.41" y2="203.90" stroke="#111" stroke-width="0.7"/>
<text x="82.11" y="207.7" font-family='"Liberation Sans", sans-serif' font-size="4.2" font-weight="bold" text-anchor="end" fill="#222" stroke="#222" stroke-width="0.12" transform="rotate(-55 82.11 207.7)">0h</text>
<rect x="84.06" y="201.00" width="3.10" height="0.70" fill="#bcbcbc" stroke="#1c1c1c" stroke-width="0.8"/>
<line x1="85.61" y1="201.70" x2="85.61" y2="203.90" stroke="#111" stroke-width="0.7"/>
<text x="87.31" y="207.7" font-family='"Liberation Sans", sans-serif' font-size="4.2" font-weight="bold" text-anchor="end" fill="#222" stroke="#222" stroke-width="0.12" transform="rotate(-55 87.31 207.7)">6h</text>
<rect x="89.26" y="200.44" width="3.10" height="1.25" fill="#bcbcbc" stroke="#1c1c1c" stroke-width="0.8"/>
<line x1="90.81" y1="201.70" x2="90.81" y2="203.90" stroke="#111" stroke-width="0.7"/>
<text x="92.51" y="207.7" font-family='"Liberation Sans", sans-serif' font-size="4.2" font-weight="bold" text-anchor="end" fill="#222" stroke="#222" stroke-width="0.12" transform="rotate(-55 92.51 207.7)">12h</text>
<rect x="94.46" y="198.79" width="3.10" height="2.91" fill="#bcbcbc" stroke="#1c1c1c" stroke-width="0.8"/>
<line x1="96.01" y1="201.70" x2="96.01" y2="203.90" stroke="#111" stroke-width="0.7"/>
<text x="97.71000000000001" y="207.7" font-family='"Liberation Sans", sans-serif' font-size="4.2" font-weight="bold" text-anchor="end" fill="#222" stroke="#222" stroke-width="0.12" transform="rotate(-55 97.71000000000001 207.7)">24h</text>
<rect x="102.99" y="155.76" width="3.10" height="45.94" fill="#b0b0b0" stroke="#1c1c1c" stroke-width="0.8"/>
<line x1="104.54" y1="201.70" x2="104.54" y2="203.90" stroke="#111" stroke-width="0.7"/>
<text x="106.24000000000001" y="207.7" font-family='"Liberation Sans", sans-serif' font-size="4.2" font-weight="bold" text-anchor="end" fill="#222" stroke="#222" stroke-width="0.12" transform="rotate(-55 106.24000000000001 207.7)">0h</text>
<rect x="108.19" y="160.72" width="3.10" height="40.97" fill="#b0b0b0" stroke="#1c1c1c" stroke-width="0.8"/>
<line x1="109.74" y1="201.70" x2="109.74" y2="203.90" stroke="#111" stroke-width="0.7"/>
<text x="111.44000000000001" y="207.7" font-family='"Liberation Sans", sans-serif' font-size="4.2" font-weight="bold" text-anchor="end" fill="#222" stroke="#222" stroke-width="0.12" transform="rotate(-55 111.44000000000001 207.7)">6h</text>
<rect x="113.39" y="163.48" width="3.10" height="38.22" fill="#b0b0b0" stroke="#1c1c1c" stroke-width="0.8"/>
<line x1="114.94" y1="201.70" x2="114.94" y2="203.90" stroke="#111" stroke-width="0.7"/>
<text x="116.64000000000001" y="207.7" font-family='"Liberation Sans", sans-serif' font-size="4.2" font-weight="bold" text-anchor="end" fill="#222" stroke="#222" stroke-width="0.12" transform="rotate(-55 116.64000000000001 207.7)">12h</text>
<rect x="118.59" y="167.90" width="3.10" height="33.80" fill="#b0b0b0" stroke="#1c1c1c" stroke-width="0.8"/>
<line x1="120.14" y1="201.70" x2="120.14" y2="203.90" stroke="#111" stroke-width="0.7"/>
<text x="121.84" y="207.7" font-family='"Liberation Sans", sans-serif' font-size="4.2" font-weight="bold" text-anchor="end" fill="#222" stroke="#222" stroke-width="0.12" transform="rotate(-55 121.84 207.7)">24h</text>
<rect x="127.12" y="183.34" width="3.10" height="18.36" fill="#a6a6a6" stroke="#1c1c1c" stroke-width="0.8"/>
<line x1="128.67" y1="201.70" x2="128.67" y2="203.90" stroke="#111" stroke-width="0.7"/>
<text x="130.36999999999998" y="207.7" font-family='"Liberation Sans", sans-serif' font-size="4.2" font-weight="bold" text-anchor="end" fill="#222" stroke="#222" stroke-width="0.12" transform="rotate(-55 130.36999999999998 207.7)">0h</text>
<rect x="132.32" y="185.00" width="3.10" height="16.70" fill="#a6a6a6" stroke="#1c1c1c" stroke-width="0.8"/>
<line x1="133.87" y1="201.70" x2="133.87" y2="203.90" stroke="#111" stroke-width="0.7"/>
<text x="135.56999999999996" y="207.7" font-family='"Liberation Sans", sans-serif' font-size="4.2" font-weight="bold" text-anchor="end" fill="#222" stroke="#222" stroke-width="0.12" transform="rotate(-55 135.56999999999996 207.7)">6h</text>
<rect x="137.52" y="186.10" width="3.10" height="15.60" fill="#a6a6a6" stroke="#1c1c1c" stroke-width="0.8"/>
<line x1="139.07" y1="201.70" x2="139.07" y2="203.90" stroke="#111" stroke-width="0.7"/>
<text x="140.76999999999998" y="207.7" font-family='"Liberation Sans", sans-serif' font-size="4.2" font-weight="bold" text-anchor="end" fill="#222" stroke="#222" stroke-width="0.12" transform="rotate(-55 140.76999999999998 207.7)">12h</text>
<rect x="142.72" y="182.24" width="3.10" height="19.46" fill="#a6a6a6" stroke="#1c1c1c" stroke-width="0.8"/>
<line x1="144.27" y1="201.70" x2="144.27" y2="203.90" stroke="#111" stroke-width="0.7"/>
<text x="145.96999999999997" y="207.7" font-family='"Liberation Sans", sans-serif' font-size="4.2" font-weight="bold" text-anchor="end" fill="#222" stroke="#222" stroke-width="0.12" transform="rotate(-55 145.96999999999997 207.7)">24h</text>
<text x="84" y="138.5" font-family='"Liberation Serif", serif' font-size="8" font-weight="normal" text-anchor="middle" fill="#222" stroke="#222" stroke-width="0.22">LP-1</text>
<rect x="128.05" y="138.70" width="7.80" height="2.80" fill="#767676" stroke="#1c1c1c" stroke-width="1.1"/>
<text x="137.8" y="141.79999999999998" font-family='"Liberation Serif", serif' font-size="4.85" font-weight="normal" text-anchor="start" fill="#484848" stroke="#484848" stroke-width="0.06">Mcl-1L</text>
<rect x="128.05" y="146.50" width="7.80" height="2.80" fill="url(#chk)" stroke="#1c1c1c" stroke-width="1.1"/>
<text x="137.8" y="149.6" font-family='"Liberation Serif", serif' font-size="4.85" font-weight="normal" text-anchor="start" fill="#484848" stroke="#484848" stroke-width="0.06">Mcl-1s</text>
<rect x="128.05" y="154.20" width="7.80" height="2.80" fill="#bcbcbc" stroke="#1c1c1c" stroke-width="1.1"/>
<text x="137.8" y="157.29999999999998" font-family='"Liberation Serif", serif' font-size="4.85" font-weight="normal" text-anchor="start" fill="#484848" stroke="#484848" stroke-width="0.06">Cleaved Mcl-1</text>
<rect x="128.05" y="161.90" width="7.80" height="2.80" fill="#b0b0b0" stroke="#1c1c1c" stroke-width="1.1"/>
<text x="137.8" y="165.0" font-family='"Liberation Serif", serif' font-size="4.85" font-weight="normal" text-anchor="start" fill="#484848" stroke="#484848" stroke-width="0.06">Bcl-2</text>
<rect x="128.05" y="169.30" width="7.80" height="2.80" fill="#a6a6a6" stroke="#1c1c1c" stroke-width="1.1"/>
<text x="137.8" y="172.39999999999998" font-family='"Liberation Serif", serif' font-size="4.85" font-weight="normal" text-anchor="start" fill="#484848" stroke="#484848" stroke-width="0.06">Bcl-xl</text>
<line x1="190.60" y1="137.70" x2="190.60" y2="203.00" stroke="#111" stroke-width="0.9"/>
<line x1="190.15" y1="202.50" x2="304.50" y2="202.50" stroke="#111" stroke-width="1.1"/>
<line x1="188.80" y1="202.50" x2="190.60" y2="202.50" stroke="#111" stroke-width="0.6"/>
<text x="188.29999999999998" y="203.94" font-family='"Liberation Sans", sans-serif' font-size="4.0" font-weight="bold" text-anchor="end" fill="#111" stroke="#111" stroke-width="0.15">0</text>
<line x1="188.80" y1="186.38" x2="190.60" y2="186.38" stroke="#111" stroke-width="0.6"/>
<text x="188.29999999999998" y="187.815" font-family='"Liberation Sans", sans-serif' font-size="4.0" font-weight="bold" text-anchor="end" fill="#111" stroke="#111" stroke-width="0.15">25</text>
<line x1="188.80" y1="170.25" x2="190.60" y2="170.25" stroke="#111" stroke-width="0.6"/>
<text x="188.29999999999998" y="171.69" font-family='"Liberation Sans", sans-serif' font-size="4.0" font-weight="bold" text-anchor="end" fill="#111" stroke="#111" stroke-width="0.15">50</text>
<line x1="188.80" y1="154.12" x2="190.60" y2="154.12" stroke="#111" stroke-width="0.6"/>
<text x="188.29999999999998" y="155.565" font-family='"Liberation Sans", sans-serif' font-size="4.0" font-weight="bold" text-anchor="end" fill="#111" stroke="#111" stroke-width="0.15">75</text>
<line x1="188.80" y1="138.00" x2="190.60" y2="138.00" stroke="#111" stroke-width="0.6"/>
<text x="188.29999999999998" y="139.44" font-family='"Liberation Sans", sans-serif' font-size="4.0" font-weight="bold" text-anchor="end" fill="#111" stroke="#111" stroke-width="0.15">100</text>
<text x="180.6" y="169.4" font-family='"Liberation Sans", sans-serif' font-size="5.3" font-weight="bold" text-anchor="middle" fill="#3a3a3a" stroke="#3a3a3a" stroke-width="0.15" textLength="61" lengthAdjust="spacingAndGlyphs" transform="rotate(-90 180.6 169.4)">densitometric analysis</text>
<rect x="193.60" y="173.88" width="2.95" height="28.63" fill="#767676" stroke="#1c1c1c" stroke-width="0.8"/>
<line x1="195.07" y1="202.50" x2="195.07" y2="204.70" stroke="#111" stroke-width="0.7"/>
<text x="196.77499999999998" y="208.5" font-family='"Liberation Sans", sans-serif' font-size="4.2" font-weight="bold" text-anchor="end" fill="#222" stroke="#222" stroke-width="0.12" transform="rotate(-55 196.77499999999998 208.5)">0h</text>
<rect x="198.47" y="150.66" width="2.95" height="51.85" fill="#767676" stroke="#1c1c1c" stroke-width="0.8"/>
<line x1="199.94" y1="202.50" x2="199.94" y2="204.70" stroke="#111" stroke-width="0.7"/>
<text x="201.64499999999998" y="208.5" font-family='"Liberation Sans", sans-serif' font-size="4.2" font-weight="bold" text-anchor="end" fill="#222" stroke="#222" stroke-width="0.12" transform="rotate(-55 201.64499999999998 208.5)">6h</text>
<rect x="203.34" y="166.14" width="2.95" height="36.37" fill="#767676" stroke="#1c1c1c" stroke-width="0.8"/>
<line x1="204.81" y1="202.50" x2="204.81" y2="204.70" stroke="#111" stroke-width="0.7"/>
<text x="206.515" y="208.5" font-family='"Liberation Sans", sans-serif' font-size="4.2" font-weight="bold" text-anchor="end" fill="#222" stroke="#222" stroke-width="0.12" transform="rotate(-55 206.515 208.5)">12h</text>
<rect x="208.21" y="153.24" width="2.95" height="49.27" fill="#767676" stroke="#1c1c1c" stroke-width="0.8"/>
<line x1="209.69" y1="202.50" x2="209.69" y2="204.70" stroke="#111" stroke-width="0.7"/>
<text x="211.385" y="208.5" font-family='"Liberation Sans", sans-serif' font-size="4.2" font-weight="bold" text-anchor="end" fill="#222" stroke="#222" stroke-width="0.12" transform="rotate(-55 211.385 208.5)">24h</text>
<rect x="216.40" y="187.42" width="2.95" height="15.08" fill="url(#chk)" stroke="#1c1c1c" stroke-width="0.8"/>
<line x1="217.88" y1="202.50" x2="217.88" y2="204.70" stroke="#111" stroke-width="0.7"/>
<text x="219.575" y="208.5" font-family='"Liberation Sans", sans-serif' font-size="4.2" font-weight="bold" text-anchor="end" fill="#222" stroke="#222" stroke-width="0.12" transform="rotate(-55 219.575 208.5)">0h</text>
<rect x="221.27" y="175.81" width="2.95" height="26.69" fill="url(#chk)" stroke="#1c1c1c" stroke-width="0.8"/>
<line x1="222.75" y1="202.50" x2="222.75" y2="204.70" stroke="#111" stroke-width="0.7"/>
<text x="224.445" y="208.5" font-family='"Liberation Sans", sans-serif' font-size="4.2" font-weight="bold" text-anchor="end" fill="#222" stroke="#222" stroke-width="0.12" transform="rotate(-55 224.445 208.5)">6h</text>
<rect x="226.14" y="175.16" width="2.95" height="27.34" fill="url(#chk)" stroke="#1c1c1c" stroke-width="0.8"/>
<line x1="227.62" y1="202.50" x2="227.62" y2="204.70" stroke="#111" stroke-width="0.7"/>
<text x="229.315" y="208.5" font-family='"Liberation Sans", sans-serif' font-size="4.2" font-weight="bold" text-anchor="end" fill="#222" stroke="#222" stroke-width="0.12" transform="rotate(-55 229.315 208.5)">12h</text>
<rect x="231.01" y="180.97" width="2.95" height="21.53" fill="url(#chk)" stroke="#1c1c1c" stroke-width="0.8"/>
<line x1="232.49" y1="202.50" x2="232.49" y2="204.70" stroke="#111" stroke-width="0.7"/>
<text x="234.185" y="208.5" font-family='"Liberation Sans", sans-serif' font-size="4.2" font-weight="bold" text-anchor="end" fill="#222" stroke="#222" stroke-width="0.12" transform="rotate(-55 234.185 208.5)">24h</text>
<rect x="239.20" y="182.91" width="2.95" height="19.60" fill="#bcbcbc" stroke="#1c1c1c" stroke-width="0.8"/>
<line x1="240.67" y1="202.50" x2="240.67" y2="204.70" stroke="#111" stroke-width="0.7"/>
<text x="242.37499999999997" y="208.5" font-family='"Liberation Sans", sans-serif' font-size="4.2" font-weight="bold" text-anchor="end" fill="#222" stroke="#222" stroke-width="0.12" transform="rotate(-55 242.37499999999997 208.5)">0h</text>
<rect x="244.07" y="179.68" width="2.95" height="22.82" fill="#bcbcbc" stroke="#1c1c1c" stroke-width="0.8"/>
<line x1="245.54" y1="202.50" x2="245.54" y2="204.70" stroke="#111" stroke-width="0.7"/>
<text x="247.24499999999998" y="208.5" font-family='"Liberation Sans", sans-serif' font-size="4.2" font-weight="bold" text-anchor="end" fill="#222" stroke="#222" stroke-width="0.12" transform="rotate(-55 247.24499999999998 208.5)">6h</text>
<rect x="248.94" y="148.72" width="2.95" height="53.78" fill="#bcbcbc" stroke="#1c1c1c" stroke-width="0.8"/>
<line x1="250.41" y1="202.50" x2="250.41" y2="204.70" stroke="#111" stroke-width="0.7"/>
<text x="252.11499999999998" y="208.5" font-family='"Liberation Sans", sans-serif' font-size="4.2" font-weight="bold" text-anchor="end" fill="#222" stroke="#222" stroke-width="0.12" transform="rotate(-55 252.11499999999998 208.5)">12h</text>
<rect x="253.81" y="144.85" width="2.95" height="57.65" fill="#bcbcbc" stroke="#1c1c1c" stroke-width="0.8"/>
<line x1="255.28" y1="202.50" x2="255.28" y2="204.70" stroke="#111" stroke-width="0.7"/>
<text x="256.98499999999996" y="208.5" font-family='"Liberation Sans", sans-serif' font-size="4.2" font-weight="bold" text-anchor="end" fill="#222" stroke="#222" stroke-width="0.12" transform="rotate(-55 256.98499999999996 208.5)">24h</text>
<rect x="262.00" y="190.65" width="2.95" height="11.86" fill="#b0b0b0" stroke="#1c1c1c" stroke-width="0.8"/>
<line x1="263.48" y1="202.50" x2="263.48" y2="204.70" stroke="#111" stroke-width="0.7"/>
<text x="265.175" y="208.5" font-family='"Liberation Sans", sans-serif' font-size="4.2" font-weight="bold" text-anchor="end" fill="#222" stroke="#222" stroke-width="0.12" transform="rotate(-55 265.175 208.5)">0h</text>
<rect x="266.87" y="193.87" width="2.95" height="8.63" fill="#b0b0b0" stroke="#1c1c1c" stroke-width="0.8"/>
<line x1="268.35" y1="202.50" x2="268.35" y2="204.70" stroke="#111" stroke-width="0.7"/>
<text x="270.045" y="208.5" font-family='"Liberation Sans", sans-serif' font-size="4.2" font-weight="bold" text-anchor="end" fill="#222" stroke="#222" stroke-width="0.12" transform="rotate(-55 270.045 208.5)">6h</text>
<rect x="271.74" y="193.87" width="2.95" height="8.63" fill="#b0b0b0" stroke="#1c1c1c" stroke-width="0.8"/>
<line x1="273.22" y1="202.50" x2="273.22" y2="204.70" stroke="#111" stroke-width="0.7"/>
<text x="274.915" y="208.5" font-family='"Liberation Sans", sans-serif' font-size="4.2" font-weight="bold" text-anchor="end" fill="#222" stroke="#222" stroke-width="0.12" transform="rotate(-55 274.915 208.5)">12h</text>
<rect x="276.61" y="190.00" width="2.95" height="12.50" fill="#b0b0b0" stroke="#1c1c1c" stroke-width="0.8"/>
<line x1="278.09" y1="202.50" x2="278.09" y2="204.70" stroke="#111" stroke-width="0.7"/>
<text x="279.785" y="208.5" font-family='"Liberation Sans", sans-serif' font-size="4.2" font-weight="bold" text-anchor="end" fill="#222" stroke="#222" stroke-width="0.12" transform="rotate(-55 279.785 208.5)">24h</text>
<rect x="284.80" y="149.37" width="2.95" height="53.14" fill="#a6a6a6" stroke="#1c1c1c" stroke-width="0.8"/>
<line x1="286.27" y1="202.50" x2="286.27" y2="204.70" stroke="#111" stroke-width="0.7"/>
<text x="287.97499999999997" y="208.5" font-family='"Liberation Sans", sans-serif' font-size="4.2" font-weight="bold" text-anchor="end" fill="#222" stroke="#222" stroke-width="0.12" transform="rotate(-55 287.97499999999997 208.5)">0h</text>
<rect x="289.67" y="143.56" width="2.95" height="58.94" fill="#a6a6a6" stroke="#1c1c1c" stroke-width="0.8"/>
<line x1="291.14" y1="202.50" x2="291.14" y2="204.70" stroke="#111" stroke-width="0.7"/>
<text x="292.84499999999997" y="208.5" font-family='"Liberation Sans", sans-serif' font-size="4.2" font-weight="bold" text-anchor="end" fill="#222" stroke="#222" stroke-width="0.12" transform="rotate(-55 292.84499999999997 208.5)">6h</text>
<rect x="294.54" y="143.56" width="2.95" height="58.94" fill="#a6a6a6" stroke="#1c1c1c" stroke-width="0.8"/>
<line x1="296.01" y1="202.50" x2="296.01" y2="204.70" stroke="#111" stroke-width="0.7"/>
<text x="297.715" y="208.5" font-family='"Liberation Sans", sans-serif' font-size="4.2" font-weight="bold" text-anchor="end" fill="#222" stroke="#222" stroke-width="0.12" transform="rotate(-55 297.715 208.5)">12h</text>
<rect x="299.41" y="150.66" width="2.95" height="51.85" fill="#a6a6a6" stroke="#1c1c1c" stroke-width="0.8"/>
<line x1="300.88" y1="202.50" x2="300.88" y2="204.70" stroke="#111" stroke-width="0.7"/>
<text x="302.585" y="208.5" font-family='"Liberation Sans", sans-serif' font-size="4.2" font-weight="bold" text-anchor="end" fill="#222" stroke="#222" stroke-width="0.12" transform="rotate(-55 302.585 208.5)">24h</text>
<text x="249.5" y="139" font-family='"Liberation Serif", serif' font-size="8" font-weight="normal" text-anchor="middle" fill="#222" stroke="#222" stroke-width="0.22">RPMI-8226</text>
<rect x="306.55" y="141.70" width="7.90" height="2.80" fill="#767676" stroke="#1c1c1c" stroke-width="1.1"/>
<text x="316.8" y="144.79999999999998" font-family='"Liberation Serif", serif' font-size="4.85" font-weight="normal" text-anchor="start" fill="#484848" stroke="#484848" stroke-width="0.06">Mcl-1L</text>
<rect x="306.55" y="149.20" width="7.90" height="2.80" fill="url(#chk)" stroke="#1c1c1c" stroke-width="1.1"/>
<text x="316.8" y="152.29999999999998" font-family='"Liberation Serif", serif' font-size="4.85" font-weight="normal" text-anchor="start" fill="#484848" stroke="#484848" stroke-width="0.06">Mcl-1s</text>
<rect x="306.55" y="157.10" width="7.90" height="2.80" fill="#bcbcbc" stroke="#1c1c1c" stroke-width="1.1"/>
<text x="316.8" y="160.2" font-family='"Liberation Serif", serif' font-size="4.85" font-weight="normal" text-anchor="start" fill="#484848" stroke="#484848" stroke-width="0.06">Cleaved Mcl-1</text>
<rect x="306.55" y="164.60" width="7.90" height="2.80" fill="#b0b0b0" stroke="#1c1c1c" stroke-width="1.1"/>
<text x="316.8" y="167.7" font-family='"Liberation Serif", serif' font-size="4.85" font-weight="normal" text-anchor="start" fill="#484848" stroke="#484848" stroke-width="0.06">Bcl-2</text>
<rect x="306.55" y="172.35" width="7.90" height="2.80" fill="#a6a6a6" stroke="#1c1c1c" stroke-width="1.1"/>
<text x="316.8" y="175.45" font-family='"Liberation Serif", serif' font-size="4.85" font-weight="normal" text-anchor="start" fill="#484848" stroke="#484848" stroke-width="0.06">Bcl-xl</text>
<line x1="365.20" y1="137.50" x2="365.20" y2="203.70" stroke="#111" stroke-width="0.9"/>
<line x1="364.75" y1="203.20" x2="476.00" y2="203.20" stroke="#111" stroke-width="1.1"/>
<line x1="363.40" y1="203.20" x2="365.20" y2="203.20" stroke="#111" stroke-width="0.6"/>
<text x="362.9" y="204.64" font-family='"Liberation Sans", sans-serif' font-size="4.0" font-weight="bold" text-anchor="end" fill="#111" stroke="#111" stroke-width="0.15">0</text>
<line x1="363.40" y1="186.85" x2="365.20" y2="186.85" stroke="#111" stroke-width="0.6"/>
<text x="362.9" y="188.29" font-family='"Liberation Sans", sans-serif' font-size="4.0" font-weight="bold" text-anchor="end" fill="#111" stroke="#111" stroke-width="0.15">50</text>
<line x1="363.40" y1="170.50" x2="365.20" y2="170.50" stroke="#111" stroke-width="0.6"/>
<text x="362.9" y="171.94" font-family='"Liberation Sans", sans-serif' font-size="4.0" font-weight="bold" text-anchor="end" fill="#111" stroke="#111" stroke-width="0.15">100</text>
<line x1="363.40" y1="154.15" x2="365.20" y2="154.15" stroke="#111" stroke-width="0.6"/>
<text x="362.9" y="155.59" font-family='"Liberation Sans", sans-serif' font-size="4.0" font-weight="bold" text-anchor="end" fill="#111" stroke="#111" stroke-width="0.15">150</text>
<line x1="363.40" y1="137.80" x2="365.20" y2="137.80" stroke="#111" stroke-width="0.6"/>
<text x="362.9" y="139.24" font-family='"Liberation Sans", sans-serif' font-size="4.0" font-weight="bold" text-anchor="end" fill="#111" stroke="#111" stroke-width="0.15">200</text>
<text x="355.5" y="169" font-family='"Liberation Sans", sans-serif' font-size="5.3" font-weight="bold" text-anchor="middle" fill="#3a3a3a" stroke="#3a3a3a" stroke-width="0.15" textLength="60" lengthAdjust="spacingAndGlyphs" transform="rotate(-90 355.5 169)">densitometric analysis</text>
<rect x="368.40" y="191.83" width="3.30" height="11.37" fill="#767676" stroke="#1c1c1c" stroke-width="0.8"/>
<line x1="370.05" y1="203.20" x2="370.05" y2="205.40" stroke="#111" stroke-width="0.7"/>
<text x="371.75" y="209.2" font-family='"Liberation Sans", sans-serif' font-size="4.2" font-weight="bold" text-anchor="end" fill="#222" stroke="#222" stroke-width="0.12" transform="rotate(-55 371.75 209.2)">0h</text>
<rect x="374.35" y="185.62" width="3.30" height="17.58" fill="#767676" stroke="#1c1c1c" stroke-width="0.8"/>
<line x1="376.00" y1="203.20" x2="376.00" y2="205.40" stroke="#111" stroke-width="0.7"/>
<text x="377.7" y="209.2" font-family='"Liberation Sans", sans-serif' font-size="4.2" font-weight="bold" text-anchor="end" fill="#222" stroke="#222" stroke-width="0.12" transform="rotate(-55 377.7 209.2)">6h</text>
<rect x="380.30" y="145.72" width="3.30" height="57.48" fill="#767676" stroke="#1c1c1c" stroke-width="0.8"/>
<line x1="381.95" y1="203.20" x2="381.95" y2="205.40" stroke="#111" stroke-width="0.7"/>
<text x="383.65" y="209.2" font-family='"Liberation Sans", sans-serif' font-size="4.2" font-weight="bold" text-anchor="end" fill="#222" stroke="#222" stroke-width="0.12" transform="rotate(-55 383.65 209.2)">12h</text>
<rect x="386.25" y="155.86" width="3.30" height="47.34" fill="#767676" stroke="#1c1c1c" stroke-width="0.8"/>
<line x1="387.90" y1="203.20" x2="387.90" y2="205.40" stroke="#111" stroke-width="0.7"/>
<text x="389.6" y="209.2" font-family='"Liberation Sans", sans-serif' font-size="4.2" font-weight="bold" text-anchor="end" fill="#222" stroke="#222" stroke-width="0.12" transform="rotate(-55 389.6 209.2)">24h</text>
<rect x="395.85" y="181.04" width="3.30" height="22.16" fill="#bcbcbc" stroke="#1c1c1c" stroke-width="0.8"/>
<line x1="397.50" y1="203.20" x2="397.50" y2="205.40" stroke="#111" stroke-width="0.7"/>
<text x="399.2" y="209.2" font-family='"Liberation Sans", sans-serif' font-size="4.2" font-weight="bold" text-anchor="end" fill="#222" stroke="#222" stroke-width="0.12" transform="rotate(-55 399.2 209.2)">0h</text>
<rect x="401.80" y="178.09" width="3.30" height="25.11" fill="#bcbcbc" stroke="#1c1c1c" stroke-width="0.8"/>
<line x1="403.45" y1="203.20" x2="403.45" y2="205.40" stroke="#111" stroke-width="0.7"/>
<text x="405.15" y="209.2" font-family='"Liberation Sans", sans-serif' font-size="4.2" font-weight="bold" text-anchor="end" fill="#222" stroke="#222" stroke-width="0.12" transform="rotate(-55 405.15 209.2)">6h</text>
<rect x="407.75" y="182.02" width="3.30" height="21.18" fill="#bcbcbc" stroke="#1c1c1c" stroke-width="0.8"/>
<line x1="409.40" y1="203.20" x2="409.40" y2="205.40" stroke="#111" stroke-width="0.7"/>
<text x="411.09999999999997" y="209.2" font-family='"Liberation Sans", sans-serif' font-size="4.2" font-weight="bold" text-anchor="end" fill="#222" stroke="#222" stroke-width="0.12" transform="rotate(-55 411.09999999999997 209.2)">12h</text>
<rect x="413.70" y="171.88" width="3.30" height="31.32" fill="#bcbcbc" stroke="#1c1c1c" stroke-width="0.8"/>
<line x1="415.35" y1="203.20" x2="415.35" y2="205.40" stroke="#111" stroke-width="0.7"/>
<text x="417.05" y="209.2" font-family='"Liberation Sans", sans-serif' font-size="4.2" font-weight="bold" text-anchor="end" fill="#222" stroke="#222" stroke-width="0.12" transform="rotate(-55 417.05 209.2)">24h</text>
<rect x="423.30" y="174.17" width="3.30" height="29.03" fill="#b0b0b0" stroke="#1c1c1c" stroke-width="0.8"/>
<line x1="424.95" y1="203.20" x2="424.95" y2="205.40" stroke="#111" stroke-width="0.7"/>
<text x="426.65" y="209.2" font-family='"Liberation Sans", sans-serif' font-size="4.2" font-weight="bold" text-anchor="end" fill="#222" stroke="#222" stroke-width="0.12" transform="rotate(-55 426.65 209.2)">0h</text>
<rect x="429.25" y="179.08" width="3.30" height="24.12" fill="#b0b0b0" stroke="#1c1c1c" stroke-width="0.8"/>
<line x1="430.90" y1="203.20" x2="430.90" y2="205.40" stroke="#111" stroke-width="0.7"/>
<text x="432.59999999999997" y="209.2" font-family='"Liberation Sans", sans-serif' font-size="4.2" font-weight="bold" text-anchor="end" fill="#222" stroke="#222" stroke-width="0.12" transform="rotate(-55 432.59999999999997 209.2)">6h</text>
<rect x="435.20" y="180.06" width="3.30" height="23.14" fill="#b0b0b0" stroke="#1c1c1c" stroke-width="0.8"/>
<line x1="436.85" y1="203.20" x2="436.85" y2="205.40" stroke="#111" stroke-width="0.7"/>
<text x="438.54999999999995" y="209.2" font-family='"Liberation Sans", sans-serif' font-size="4.2" font-weight="bold" text-anchor="end" fill="#222" stroke="#222" stroke-width="0.12" transform="rotate(-55 438.54999999999995 209.2)">12h</text>
<rect x="441.15" y="171.55" width="3.30" height="31.65" fill="#b0b0b0" stroke="#1c1c1c" stroke-width="0.8"/>
<line x1="442.80" y1="203.20" x2="442.80" y2="205.40" stroke="#111" stroke-width="0.7"/>
<text x="444.5" y="209.2" font-family='"Liberation Sans", sans-serif' font-size="4.2" font-weight="bold" text-anchor="end" fill="#222" stroke="#222" stroke-width="0.12" transform="rotate(-55 444.5 209.2)">24h</text>
<rect x="450.75" y="158.80" width="3.30" height="44.40" fill="#a6a6a6" stroke="#1c1c1c" stroke-width="0.8"/>
<line x1="452.40" y1="203.20" x2="452.40" y2="205.40" stroke="#111" stroke-width="0.7"/>
<text x="454.1" y="209.2" font-family='"Liberation Sans", sans-serif' font-size="4.2" font-weight="bold" text-anchor="end" fill="#222" stroke="#222" stroke-width="0.12" transform="rotate(-55 454.1 209.2)">0h</text>
<rect x="456.70" y="170.90" width="3.30" height="32.30" fill="#a6a6a6" stroke="#1c1c1c" stroke-width="0.8"/>
<line x1="458.35" y1="203.20" x2="458.35" y2="205.40" stroke="#111" stroke-width="0.7"/>
<text x="460.05" y="209.2" font-family='"Liberation Sans", sans-serif' font-size="4.2" font-weight="bold" text-anchor="end" fill="#222" stroke="#222" stroke-width="0.12" transform="rotate(-55 460.05 209.2)">6h</text>
<rect x="462.65" y="171.88" width="3.30" height="31.32" fill="#a6a6a6" stroke="#1c1c1c" stroke-width="0.8"/>
<line x1="464.30" y1="203.20" x2="464.30" y2="205.40" stroke="#111" stroke-width="0.7"/>
<text x="466.0" y="209.2" font-family='"Liberation Sans", sans-serif' font-size="4.2" font-weight="bold" text-anchor="end" fill="#222" stroke="#222" stroke-width="0.12" transform="rotate(-55 466.0 209.2)">12h</text>
<rect x="468.60" y="166.32" width="3.30" height="36.88" fill="#a6a6a6" stroke="#1c1c1c" stroke-width="0.8"/>
<line x1="470.25" y1="203.20" x2="470.25" y2="205.40" stroke="#111" stroke-width="0.7"/>
<text x="471.95000000000005" y="209.2" font-family='"Liberation Sans", sans-serif' font-size="4.2" font-weight="bold" text-anchor="end" fill="#222" stroke="#222" stroke-width="0.12" transform="rotate(-55 471.95000000000005 209.2)">24h</text>
<text x="421" y="140" font-family='"Liberation Serif", serif' font-size="8" font-weight="normal" text-anchor="middle" fill="#222" stroke="#222" stroke-width="0.22">5T33vt</text>
<rect x="476.75" y="143.20" width="6.50" height="2.80" fill="#767676" stroke="#1c1c1c" stroke-width="1.1"/>
<text x="486.2" y="146.29999999999998" font-family='"Liberation Serif", serif' font-size="4.85" font-weight="normal" text-anchor="start" fill="#484848" stroke="#484848" stroke-width="0.06">Mcl-1(+1v)</text>
<rect x="476.75" y="150.90" width="6.50" height="2.80" fill="#bcbcbc" stroke="#1c1c1c" stroke-width="1.1"/>
<text x="486.2" y="154.0" font-family='"Liberation Serif", serif' font-size="4.85" font-weight="normal" text-anchor="start" fill="#484848" stroke="#484848" stroke-width="0.06">Cleaved Mcl-1</text>
<rect x="476.75" y="158.60" width="6.50" height="2.80" fill="#b0b0b0" stroke="#1c1c1c" stroke-width="1.1"/>
<text x="486.2" y="161.7" font-family='"Liberation Serif", serif' font-size="4.85" font-weight="normal" text-anchor="start" fill="#484848" stroke="#484848" stroke-width="0.06">Bcl-2</text>
<rect x="476.75" y="166.00" width="6.50" height="2.80" fill="#a6a6a6" stroke="#1c1c1c" stroke-width="1.1"/>
<text x="486.2" y="169.1" font-family='"Liberation Serif", serif' font-size="4.85" font-weight="normal" text-anchor="start" fill="#484848" stroke="#484848" stroke-width="0.06">Bcl-xl</text>
<line x1="24.60" y1="242.30" x2="26.60" y2="242.30" stroke="#222" stroke-width="0.9"/>
<line x1="24.60" y1="252.90" x2="26.60" y2="252.90" stroke="#222" stroke-width="0.9"/>
<line x1="40.30" y1="242.30" x2="42.30" y2="242.30" stroke="#222" stroke-width="0.9"/>
<line x1="39.80" y1="252.90" x2="42.80" y2="252.90" stroke="#444" stroke-width="0.7"/>
<line x1="41.30" y1="251.40" x2="41.30" y2="254.40" stroke="#444" stroke-width="0.7"/>
<line x1="55.80" y1="242.30" x2="58.80" y2="242.30" stroke="#444" stroke-width="0.7"/>
<line x1="57.30" y1="240.80" x2="57.30" y2="243.80" stroke="#444" stroke-width="0.7"/>
<line x1="55.80" y1="252.90" x2="58.80" y2="252.90" stroke="#444" stroke-width="0.7"/>
<line x1="57.30" y1="251.40" x2="57.30" y2="254.40" stroke="#444" stroke-width="0.7"/>
<text x="68.8" y="243.9" font-family='"Liberation Serif", serif' font-size="3.6" font-weight="normal" text-anchor="start" fill="#444" stroke="#444" stroke-width="0.1" textLength="21.6" lengthAdjust="spacingAndGlyphs">Z-VAD-FMK</text>
<text x="68.8" y="254.6" font-family='"Liberation Serif", serif' font-size="3.6" font-weight="normal" text-anchor="start" fill="#444" stroke="#444" stroke-width="0.1">Btz</text>
<g clip-path="url(#c13)">
<rect x="16.50" y="264.50" width="51.60" height="37.25" fill="#fff" stroke="none" stroke-width="0"/>
<g filter="url(#fc13)">
<rect x="18.30" y="267.80" width="13.20" height="4.20" rx="1.26" fill="#000" opacity="1.0"/>
<rect x="34.20" y="267.30" width="14.20" height="5.40" rx="1.62" fill="#000" opacity="1.0"/>
<rect x="49.90" y="267.30" width="16.60" height="5.80" rx="1.74" fill="#000" opacity="1.0"/>
<rect x="17.00" y="269.20" width="50.00" height="1.60" rx="0.48" fill="#000" opacity="0.55"/>
<rect x="19.75" y="275.50" width="10.50" height="2.60" rx="0.78" fill="#000" opacity="0.95"/>
<rect x="35.30" y="274.40" width="12.40" height="4.40" rx="1.32" fill="#000" opacity="1.0"/>
<rect x="51.00" y="274.30" width="14.40" height="5.00" rx="1.50" fill="#000" opacity="1.0"/>
<rect x="35.40" y="272.00" width="12.00" height="3.00" rx="0.90" fill="#000" opacity="0.45"/>
<rect x="50.95" y="272.00" width="14.50" height="3.00" rx="0.90" fill="#000" opacity="0.6"/>
<rect x="36.25" y="279.30" width="10.50" height="2.40" rx="0.72" fill="#000" opacity="0.5"/>
<rect x="36.50" y="282.20" width="10.00" height="2.20" rx="0.66" fill="#000" opacity="0.28"/>
<rect x="37.00" y="285.00" width="9.00" height="2.00" rx="0.60" fill="#000" opacity="0.1"/>
<rect x="52.05" y="279.70" width="12.50" height="2.20" rx="0.66" fill="#000" opacity="0.75"/>
<rect x="52.30" y="282.60" width="12.00" height="2.00" rx="0.60" fill="#000" opacity="0.55"/>
<rect x="52.80" y="285.10" width="11.00" height="1.80" rx="0.54" fill="#000" opacity="0.3"/>
<rect x="53.50" y="288.60" width="9.00" height="1.40" rx="0.42" fill="#000" opacity="0.4"/>
<rect x="22.50" y="280.25" width="5.00" height="1.50" rx="0.45" fill="#000" opacity="0.1"/>
<rect x="35.50" y="291.50" width="11.00" height="2.20" rx="0.66" fill="#000" opacity="1.0"/>
<rect x="35.50" y="294.40" width="11.00" height="2.00" rx="0.60" fill="#000" opacity="1.0"/>
<rect x="36.00" y="292.50" width="10.00" height="3.00" rx="0.90" fill="#000" opacity="0.6"/>
</g>
</g>
<rect x="16.50" y="264.50" width="51.60" height="37.25" fill="none" stroke="#111" stroke-width="0.8"/>
<g clip-path="url(#c14)">
<rect x="16.30" y="308.00" width="52.40" height="45.20" fill="#fff" stroke="none" stroke-width="0"/>
<g filter="url(#fc14)">
<rect x="19.75" y="312.10" width="14.50" height="6.60" rx="1.98" fill="#000" opacity="1.0"/>
<rect x="37.00" y="312.40" width="13.00" height="6.00" rx="1.80" fill="#000" opacity="1.0"/>
<rect x="51.30" y="311.40" width="16.00" height="8.40" rx="2.52" fill="#000" opacity="1.0"/>
<rect x="18.50" y="313.70" width="48.00" height="3.20" rx="0.96" fill="#000" opacity="1.0"/>
<rect x="21.00" y="319.00" width="12.00" height="3.00" rx="0.90" fill="#000" opacity="0.4"/>
<rect x="38.00" y="318.50" width="11.00" height="3.00" rx="0.90" fill="#000" opacity="0.35"/>
<rect x="52.30" y="319.80" width="14.00" height="3.40" rx="1.02" fill="#000" opacity="0.55"/>
<rect x="17.50" y="322.00" width="50.00" height="4.00" rx="1.20" fill="#000" opacity="0.08"/>
<rect x="38.30" y="333.90" width="8.60" height="1.80" rx="0.54" fill="#000" opacity="0.7"/>
<rect x="54.50" y="333.95" width="9.00" height="1.70" rx="0.51" fill="#000" opacity="0.5"/>
<rect x="39.10" y="339.30" width="7.00" height="1.40" rx="0.42" fill="#000" opacity="0.25"/>
<rect x="38.20" y="344.10" width="10.00" height="2.40" rx="0.72" fill="#000" opacity="0.95"/>
<rect x="55.00" y="344.80" width="8.00" height="1.60" rx="0.48" fill="#000" opacity="0.15"/>
<rect x="23.50" y="344.85" width="8.00" height="1.50" rx="0.45" fill="#000" opacity="0.12"/>
<rect x="53.00" y="327.00" width="12.00" height="22.00" fill="#000" opacity="0.04"/>
<rect x="37.00" y="327.00" width="12.00" height="22.00" fill="#000" opacity="0.03"/>
</g>
</g>
<rect x="16.30" y="308.00" width="52.40" height="45.20" fill="none" stroke="#111" stroke-width="0.8"/>
<g clip-path="url(#c15)">
<rect x="15.80" y="359.00" width="53.50" height="13.40" fill="#fff" stroke="none" stroke-width="0"/>
<g filter="url(#fc15)">
<rect x="12.50" y="363.60" width="60.00" height="3.40" rx="1.02" fill="#000" opacity="1.0"/>
<rect x="18.50" y="364.10" width="15.00" height="4.20" rx="1.26" fill="#000" opacity="1.0"/>
<rect x="37.00" y="364.40" width="13.00" height="4.00" rx="1.20" fill="#000" opacity="1.0"/>
<rect x="53.00" y="364.10" width="15.00" height="4.20" rx="1.26" fill="#000" opacity="1.0"/>
<rect x="14.50" y="362.00" width="5.00" height="3.00" rx="0.90" fill="#000" opacity="0.9"/>
<rect x="65.50" y="362.00" width="5.00" height="3.00" rx="0.90" fill="#000" opacity="0.9"/>
<rect x="33.80" y="362.80" width="3.00" height="2.40" rx="0.72" fill="#000" opacity="0.7"/>
<rect x="50.50" y="362.80" width="3.00" height="2.40" rx="0.72" fill="#000" opacity="0.7"/>
</g>
</g>
<rect x="15.80" y="359.00" width="53.50" height="13.40" fill="none" stroke="#111" stroke-width="0.8"/>
<text x="77.5" y="270.2" font-family='"Liberation Serif", serif' font-size="6.5" font-weight="normal" text-anchor="start" fill="#222" stroke="#222" stroke-width="0.22" textLength="40.5" lengthAdjust="spacingAndGlyphs">Mcl-1L (40 kD)</text>
<text x="77.5" y="280.2" font-family='"Liberation Serif", serif' font-size="6.5" font-weight="normal" text-anchor="start" fill="#222" stroke="#222" stroke-width="0.22" textLength="40.5" lengthAdjust="spacingAndGlyphs">Mcl-1s  (35 kD)</text>
<text x="96.8" y="294.7" font-family='"Liberation Serif", serif' font-size="6.5" font-weight="normal" text-anchor="start" fill="#222" stroke="#222" stroke-width="0.22" textLength="37" lengthAdjust="spacingAndGlyphs">Cleaved Mcl-1</text>
<text x="77.5" y="315.7" font-family='"Liberation Serif", serif' font-size="6.2" font-weight="normal" text-anchor="start" fill="#222" stroke="#222" stroke-width="0.22" textLength="53.8" lengthAdjust="spacingAndGlyphs">Pro-caspase 3 (35 kD)</text>
<text x="77" y="344.8" font-family='"Liberation Serif", serif' font-size="6.2" font-weight="normal" text-anchor="start" fill="#222" stroke="#222" stroke-width="0.22" textLength="73" lengthAdjust="spacingAndGlyphs">Cleaved caspase 3 (17/ 19 kD)</text>
<text x="77.5" y="367.6" font-family='"Liberation Serif", serif' font-size="6.0" font-weight="normal" text-anchor="start" fill="#222" stroke="#222" stroke-width="0.22" textLength="12.5" lengthAdjust="spacingAndGlyphs">actin</text>
<path d="M77 285.8 H86.3 V300 H77 M86.3 292.6 H92.5" fill="none" stroke="#333" stroke-width="0.9"/>
<line x1="210.50" y1="265.20" x2="210.50" y2="330.10" stroke="#111" stroke-width="0.8"/>
<line x1="210.10" y1="329.70" x2="346.00" y2="329.70" stroke="#111" stroke-width="0.9"/>
<line x1="208.70" y1="329.70" x2="210.50" y2="329.70" stroke="#111" stroke-width="0.6"/>
<text x="208.0" y="331.15" font-family='"Liberation Sans", sans-serif' font-size="4.1" font-weight="bold" text-anchor="end" fill="#111" stroke="#111" stroke-width="0.12">0</text>
<line x1="208.70" y1="320.53" x2="210.50" y2="320.53" stroke="#111" stroke-width="0.6"/>
<text x="208.0" y="321.9785714285714" font-family='"Liberation Sans", sans-serif' font-size="4.1" font-weight="bold" text-anchor="end" fill="#111" stroke="#111" stroke-width="0.12">50</text>
<line x1="208.70" y1="311.36" x2="210.50" y2="311.36" stroke="#111" stroke-width="0.6"/>
<text x="208.0" y="312.8071428571428" font-family='"Liberation Sans", sans-serif' font-size="4.1" font-weight="bold" text-anchor="end" fill="#111" stroke="#111" stroke-width="0.12">100</text>
<line x1="208.70" y1="302.19" x2="210.50" y2="302.19" stroke="#111" stroke-width="0.6"/>
<text x="208.0" y="303.63571428571424" font-family='"Liberation Sans", sans-serif' font-size="4.1" font-weight="bold" text-anchor="end" fill="#111" stroke="#111" stroke-width="0.12">150</text>
<line x1="208.70" y1="293.01" x2="210.50" y2="293.01" stroke="#111" stroke-width="0.6"/>
<text x="208.0" y="294.4642857142857" font-family='"Liberation Sans", sans-serif' font-size="4.1" font-weight="bold" text-anchor="end" fill="#111" stroke="#111" stroke-width="0.12">200</text>
<line x1="208.70" y1="283.84" x2="210.50" y2="283.84" stroke="#111" stroke-width="0.6"/>
<text x="208.0" y="285.29285714285714" font-family='"Liberation Sans", sans-serif' font-size="4.1" font-weight="bold" text-anchor="end" fill="#111" stroke="#111" stroke-width="0.12">250</text>
<line x1="208.70" y1="274.67" x2="210.50" y2="274.67" stroke="#111" stroke-width="0.6"/>
<text x="208.0" y="276.12142857142857" font-family='"Liberation Sans", sans-serif' font-size="4.1" font-weight="bold" text-anchor="end" fill="#111" stroke="#111" stroke-width="0.12">300</text>
<line x1="208.70" y1="265.50" x2="210.50" y2="265.50" stroke="#111" stroke-width="0.6"/>
<text x="208.0" y="266.95" font-family='"Liberation Sans", sans-serif' font-size="4.1" font-weight="bold" text-anchor="end" fill="#111" stroke="#111" stroke-width="0.12">350</text>
<text x="198.9" y="297" font-family='"Liberation Sans", sans-serif' font-size="5.3" font-weight="bold" text-anchor="middle" fill="#3a3a3a" stroke="#3a3a3a" stroke-width="0.15" textLength="57.5" lengthAdjust="spacingAndGlyphs" transform="rotate(-90 198.9 297)">densitometric analysis</text>
<rect x="214.40" y="309.37" width="4.80" height="20.33" fill="#767676" stroke="#1c1c1c" stroke-width="0.8"/>
<line x1="216.80" y1="329.70" x2="216.80" y2="331.20" stroke="#111" stroke-width="0.5"/>
<line x1="215.85" y1="338.30" x2="217.75" y2="338.30" stroke="#333" stroke-width="0.7"/>
<line x1="215.85" y1="345.80" x2="217.75" y2="345.80" stroke="#333" stroke-width="0.7"/>
<rect x="221.65" y="281.86" width="4.80" height="47.84" fill="#767676" stroke="#1c1c1c" stroke-width="0.8"/>
<line x1="224.05" y1="329.70" x2="224.05" y2="331.20" stroke="#111" stroke-width="0.5"/>
<line x1="223.10" y1="338.30" x2="225.00" y2="338.30" stroke="#333" stroke-width="0.7"/>
<line x1="222.55" y1="345.80" x2="225.55" y2="345.80" stroke="#333" stroke-width="0.7"/>
<line x1="224.05" y1="344.30" x2="224.05" y2="347.30" stroke="#333" stroke-width="0.7"/>
<rect x="228.90" y="268.47" width="4.80" height="61.23" fill="#767676" stroke="#1c1c1c" stroke-width="0.8"/>
<line x1="231.30" y1="329.70" x2="231.30" y2="331.20" stroke="#111" stroke-width="0.5"/>
<line x1="229.80" y1="338.30" x2="232.80" y2="338.30" stroke="#333" stroke-width="0.7"/>
<line x1="231.30" y1="336.80" x2="231.30" y2="339.80" stroke="#333" stroke-width="0.7"/>
<line x1="229.80" y1="345.80" x2="232.80" y2="345.80" stroke="#333" stroke-width="0.7"/>
<line x1="231.30" y1="344.30" x2="231.30" y2="347.30" stroke="#333" stroke-width="0.7"/>
<rect x="241.30" y="317.08" width="4.80" height="12.62" fill="url(#chk)" stroke="#1c1c1c" stroke-width="0.8"/>
<line x1="243.70" y1="329.70" x2="243.70" y2="331.20" stroke="#111" stroke-width="0.5"/>
<line x1="242.75" y1="338.30" x2="244.65" y2="338.30" stroke="#333" stroke-width="0.7"/>
<line x1="242.75" y1="345.80" x2="244.65" y2="345.80" stroke="#333" stroke-width="0.7"/>
<rect x="248.55" y="299.65" width="4.80" height="30.05" fill="url(#chk)" stroke="#1c1c1c" stroke-width="0.8"/>
<line x1="250.95" y1="329.70" x2="250.95" y2="331.20" stroke="#111" stroke-width="0.5"/>
<line x1="250.00" y1="338.30" x2="251.90" y2="338.30" stroke="#333" stroke-width="0.7"/>
<line x1="249.45" y1="345.80" x2="252.45" y2="345.80" stroke="#333" stroke-width="0.7"/>
<line x1="250.95" y1="344.30" x2="250.95" y2="347.30" stroke="#333" stroke-width="0.7"/>
<rect x="255.80" y="280.94" width="4.80" height="48.76" fill="url(#chk)" stroke="#1c1c1c" stroke-width="0.8"/>
<line x1="258.20" y1="329.70" x2="258.20" y2="331.20" stroke="#111" stroke-width="0.5"/>
<line x1="256.70" y1="338.30" x2="259.70" y2="338.30" stroke="#333" stroke-width="0.7"/>
<line x1="258.20" y1="336.80" x2="258.20" y2="339.80" stroke="#333" stroke-width="0.7"/>
<line x1="256.70" y1="345.80" x2="259.70" y2="345.80" stroke="#333" stroke-width="0.7"/>
<line x1="258.20" y1="344.30" x2="258.20" y2="347.30" stroke="#333" stroke-width="0.7"/>
<rect x="268.20" y="329.73" width="4.80" height="0.10" fill="#bcbcbc" stroke="#1c1c1c" stroke-width="0.8"/>
<line x1="270.60" y1="329.70" x2="270.60" y2="331.20" stroke="#111" stroke-width="0.5"/>
<line x1="269.65" y1="338.30" x2="271.55" y2="338.30" stroke="#333" stroke-width="0.7"/>
<line x1="269.65" y1="345.80" x2="271.55" y2="345.80" stroke="#333" stroke-width="0.7"/>
<rect x="275.45" y="313.41" width="4.80" height="16.29" fill="#bcbcbc" stroke="#1c1c1c" stroke-width="0.8"/>
<line x1="277.85" y1="329.70" x2="277.85" y2="331.20" stroke="#111" stroke-width="0.5"/>
<line x1="276.90" y1="338.30" x2="278.80" y2="338.30" stroke="#333" stroke-width="0.7"/>
<line x1="276.35" y1="345.80" x2="279.35" y2="345.80" stroke="#333" stroke-width="0.7"/>
<line x1="277.85" y1="344.30" x2="277.85" y2="347.30" stroke="#333" stroke-width="0.7"/>
<rect x="282.70" y="325.88" width="4.80" height="3.82" fill="#bcbcbc" stroke="#1c1c1c" stroke-width="0.8"/>
<line x1="285.10" y1="329.70" x2="285.10" y2="331.20" stroke="#111" stroke-width="0.5"/>
<line x1="283.60" y1="338.30" x2="286.60" y2="338.30" stroke="#333" stroke-width="0.7"/>
<line x1="285.10" y1="336.80" x2="285.10" y2="339.80" stroke="#333" stroke-width="0.7"/>
<line x1="283.60" y1="345.80" x2="286.60" y2="345.80" stroke="#333" stroke-width="0.7"/>
<line x1="285.10" y1="344.30" x2="285.10" y2="347.30" stroke="#333" stroke-width="0.7"/>
<rect x="295.10" y="277.09" width="4.80" height="52.61" fill="#b0b0b0" stroke="#1c1c1c" stroke-width="0.8"/>
<line x1="297.50" y1="329.70" x2="297.50" y2="331.20" stroke="#111" stroke-width="0.5"/>
<line x1="296.55" y1="338.30" x2="298.45" y2="338.30" stroke="#333" stroke-width="0.7"/>
<line x1="296.55" y1="345.80" x2="298.45" y2="345.80" stroke="#333" stroke-width="0.7"/>
<rect x="302.35" y="290.66" width="4.80" height="39.04" fill="#b0b0b0" stroke="#1c1c1c" stroke-width="0.8"/>
<line x1="304.75" y1="329.70" x2="304.75" y2="331.20" stroke="#111" stroke-width="0.5"/>
<line x1="303.80" y1="338.30" x2="305.70" y2="338.30" stroke="#333" stroke-width="0.7"/>
<line x1="303.25" y1="345.80" x2="306.25" y2="345.80" stroke="#333" stroke-width="0.7"/>
<line x1="304.75" y1="344.30" x2="304.75" y2="347.30" stroke="#333" stroke-width="0.7"/>
<rect x="309.60" y="272.32" width="4.80" height="57.38" fill="#b0b0b0" stroke="#1c1c1c" stroke-width="0.8"/>
<line x1="312.00" y1="329.70" x2="312.00" y2="331.20" stroke="#111" stroke-width="0.5"/>
<line x1="310.50" y1="338.30" x2="313.50" y2="338.30" stroke="#333" stroke-width="0.7"/>
<line x1="312.00" y1="336.80" x2="312.00" y2="339.80" stroke="#333" stroke-width="0.7"/>
<line x1="310.50" y1="345.80" x2="313.50" y2="345.80" stroke="#333" stroke-width="0.7"/>
<line x1="312.00" y1="344.30" x2="312.00" y2="347.30" stroke="#333" stroke-width="0.7"/>
<rect x="322.00" y="329.18" width="4.80" height="0.52" fill="#a6a6a6" stroke="#1c1c1c" stroke-width="0.8"/>
<line x1="324.40" y1="329.70" x2="324.40" y2="331.20" stroke="#111" stroke-width="0.5"/>
<line x1="323.45" y1="338.30" x2="325.35" y2="338.30" stroke="#333" stroke-width="0.7"/>
<line x1="323.45" y1="345.80" x2="325.35" y2="345.80" stroke="#333" stroke-width="0.7"/>
<rect x="329.25" y="323.31" width="4.80" height="6.39" fill="#a6a6a6" stroke="#1c1c1c" stroke-width="0.8"/>
<line x1="331.65" y1="329.70" x2="331.65" y2="331.20" stroke="#111" stroke-width="0.5"/>
<line x1="330.70" y1="338.30" x2="332.60" y2="338.30" stroke="#333" stroke-width="0.7"/>
<line x1="330.15" y1="345.80" x2="333.15" y2="345.80" stroke="#333" stroke-width="0.7"/>
<line x1="331.65" y1="344.30" x2="331.65" y2="347.30" stroke="#333" stroke-width="0.7"/>
<rect x="336.50" y="327.53" width="4.80" height="2.17" fill="#a6a6a6" stroke="#1c1c1c" stroke-width="0.8"/>
<line x1="338.90" y1="329.70" x2="338.90" y2="331.20" stroke="#111" stroke-width="0.5"/>
<line x1="337.40" y1="338.30" x2="340.40" y2="338.30" stroke="#333" stroke-width="0.7"/>
<line x1="338.90" y1="336.80" x2="338.90" y2="339.80" stroke="#333" stroke-width="0.7"/>
<line x1="337.40" y1="345.80" x2="340.40" y2="345.80" stroke="#333" stroke-width="0.7"/>
<line x1="338.90" y1="344.30" x2="338.90" y2="347.30" stroke="#333" stroke-width="0.7"/>
<text x="352" y="339.7" font-family='"Liberation Serif", serif' font-size="3.6" font-weight="normal" text-anchor="start" fill="#444" stroke="#444" stroke-width="0.1" textLength="21" lengthAdjust="spacingAndGlyphs">Z-VAD-FMK</text>
<text x="352" y="347.4" font-family='"Liberation Serif", serif' font-size="3.6" font-weight="normal" text-anchor="start" fill="#444" stroke="#444" stroke-width="0.1">Btz</text>
<rect x="321.95" y="268.65" width="8.40" height="2.90" fill="#767676" stroke="#1c1c1c" stroke-width="1.1"/>
<text x="336.2" y="271.8" font-family='"Liberation Serif", serif' font-size="4.95" font-weight="normal" text-anchor="start" fill="#484848" stroke="#484848" stroke-width="0.06">Mcl-1L</text>
<rect x="321.95" y="276.05" width="8.40" height="2.90" fill="url(#chk)" stroke="#1c1c1c" stroke-width="1.1"/>
<text x="336.2" y="279.2" font-family='"Liberation Serif", serif' font-size="4.95" font-weight="normal" text-anchor="start" fill="#484848" stroke="#484848" stroke-width="0.06">Mcl-1s</text>
<rect x="321.95" y="283.45" width="8.40" height="2.90" fill="#bcbcbc" stroke="#1c1c1c" stroke-width="1.1"/>
<text x="336.2" y="286.59999999999997" font-family='"Liberation Serif", serif' font-size="4.95" font-weight="normal" text-anchor="start" fill="#484848" stroke="#484848" stroke-width="0.06">Cleaved Mcl-1</text>
<rect x="321.95" y="290.85" width="8.40" height="2.90" fill="#b0b0b0" stroke="#1c1c1c" stroke-width="1.1"/>
<text x="336.2" y="294.0" font-family='"Liberation Serif", serif' font-size="4.95" font-weight="normal" text-anchor="start" fill="#484848" stroke="#484848" stroke-width="0.06">Pro-caspase-3</text>
<rect x="321.95" y="298.25" width="8.40" height="2.90" fill="#a6a6a6" stroke="#1c1c1c" stroke-width="1.1"/>
<text x="336.2" y="301.4" font-family='"Liberation Serif", serif' font-size="4.95" font-weight="normal" text-anchor="start" fill="#484848" stroke="#484848" stroke-width="0.06">Cleaved caspase-3</text>
<line x1="29.20" y1="409.20" x2="29.20" y2="493.40" stroke="#111" stroke-width="0.8"/>
<line x1="28.80" y1="493.00" x2="152.50" y2="493.00" stroke="#111" stroke-width="1.0"/>
<line x1="27.40" y1="493.00" x2="29.20" y2="493.00" stroke="#111" stroke-width="0.6"/>
<text x="26.8" y="494.3" font-family='"Liberation Sans", sans-serif' font-size="3.7" font-weight="bold" text-anchor="end" fill="#111" stroke="#111" stroke-width="0.15">0.0</text>
<line x1="27.40" y1="487.43" x2="29.20" y2="487.43" stroke="#111" stroke-width="0.6"/>
<text x="26.8" y="488.73333333333335" font-family='"Liberation Sans", sans-serif' font-size="3.7" font-weight="bold" text-anchor="end" fill="#111" stroke="#111" stroke-width="0.15">0.5</text>
<line x1="27.40" y1="481.87" x2="29.20" y2="481.87" stroke="#111" stroke-width="0.6"/>
<text x="26.8" y="483.1666666666667" font-family='"Liberation Sans", sans-serif' font-size="3.7" font-weight="bold" text-anchor="end" fill="#111" stroke="#111" stroke-width="0.15">1.0</text>
<line x1="27.40" y1="476.30" x2="29.20" y2="476.30" stroke="#111" stroke-width="0.6"/>
<text x="26.8" y="477.6" font-family='"Liberation Sans", sans-serif' font-size="3.7" font-weight="bold" text-anchor="end" fill="#111" stroke="#111" stroke-width="0.15">1.5</text>
<line x1="27.40" y1="470.73" x2="29.20" y2="470.73" stroke="#111" stroke-width="0.6"/>
<text x="26.8" y="472.03333333333336" font-family='"Liberation Sans", sans-serif' font-size="3.7" font-weight="bold" text-anchor="end" fill="#111" stroke="#111" stroke-width="0.15">2.0</text>
<line x1="27.40" y1="465.17" x2="29.20" y2="465.17" stroke="#111" stroke-width="0.6"/>
<text x="26.8" y="466.4666666666667" font-family='"Liberation Sans", sans-serif' font-size="3.7" font-weight="bold" text-anchor="end" fill="#111" stroke="#111" stroke-width="0.15">2.5</text>
<line x1="27.40" y1="459.60" x2="29.20" y2="459.60" stroke="#111" stroke-width="0.6"/>
<text x="26.8" y="460.90000000000003" font-family='"Liberation Sans", sans-serif' font-size="3.7" font-weight="bold" text-anchor="end" fill="#111" stroke="#111" stroke-width="0.15">3.0</text>
<line x1="27.40" y1="454.03" x2="29.20" y2="454.03" stroke="#111" stroke-width="0.6"/>
<text x="26.8" y="455.3333333333333" font-family='"Liberation Sans", sans-serif' font-size="3.7" font-weight="bold" text-anchor="end" fill="#111" stroke="#111" stroke-width="0.15">3.5</text>
<line x1="27.40" y1="448.47" x2="29.20" y2="448.47" stroke="#111" stroke-width="0.6"/>
<text x="26.8" y="449.7666666666667" font-family='"Liberation Sans", sans-serif' font-size="3.7" font-weight="bold" text-anchor="end" fill="#111" stroke="#111" stroke-width="0.15">4.0</text>
<line x1="27.40" y1="442.90" x2="29.20" y2="442.90" stroke="#111" stroke-width="0.6"/>
<text x="26.8" y="444.2" font-family='"Liberation Sans", sans-serif' font-size="3.7" font-weight="bold" text-anchor="end" fill="#111" stroke="#111" stroke-width="0.15">4.5</text>
<line x1="27.40" y1="437.33" x2="29.20" y2="437.33" stroke="#111" stroke-width="0.6"/>
<text x="26.8" y="438.6333333333333" font-family='"Liberation Sans", sans-serif' font-size="3.7" font-weight="bold" text-anchor="end" fill="#111" stroke="#111" stroke-width="0.15">5.0</text>
<line x1="27.40" y1="431.77" x2="29.20" y2="431.77" stroke="#111" stroke-width="0.6"/>
<text x="26.8" y="433.06666666666666" font-family='"Liberation Sans", sans-serif' font-size="3.7" font-weight="bold" text-anchor="end" fill="#111" stroke="#111" stroke-width="0.15">5.5</text>
<line x1="27.40" y1="426.20" x2="29.20" y2="426.20" stroke="#111" stroke-width="0.6"/>
<text x="26.8" y="427.5" font-family='"Liberation Sans", sans-serif' font-size="3.7" font-weight="bold" text-anchor="end" fill="#111" stroke="#111" stroke-width="0.15">6.0</text>
<line x1="27.40" y1="420.63" x2="29.20" y2="420.63" stroke="#111" stroke-width="0.6"/>
<text x="26.8" y="421.93333333333334" font-family='"Liberation Sans", sans-serif' font-size="3.7" font-weight="bold" text-anchor="end" fill="#111" stroke="#111" stroke-width="0.15">6.5</text>
<line x1="27.40" y1="415.07" x2="29.20" y2="415.07" stroke="#111" stroke-width="0.6"/>
<text x="26.8" y="416.3666666666667" font-family='"Liberation Sans", sans-serif' font-size="3.7" font-weight="bold" text-anchor="end" fill="#111" stroke="#111" stroke-width="0.15">7.0</text>
<line x1="27.40" y1="409.50" x2="29.20" y2="409.50" stroke="#111" stroke-width="0.6"/>
<text x="26.8" y="410.8" font-family='"Liberation Sans", sans-serif' font-size="3.7" font-weight="bold" text-anchor="end" fill="#111" stroke="#111" stroke-width="0.15">7.5</text>
<text x="19.4" y="449.2" font-family='"Liberation Sans", sans-serif' font-size="4.9" font-weight="bold" text-anchor="middle" fill="#3a3a3a" stroke="#3a3a3a" stroke-width="0.15" textLength="75.5" lengthAdjust="spacingAndGlyphs" transform="rotate(-90 19.4 449.2)">Relative mRNA expression level</text>
<rect x="33.30" y="482.27" width="4.80" height="10.73" fill="#767676" stroke="#1c1c1c" stroke-width="0.8"/>
<line x1="43.50" y1="436.22" x2="43.50" y2="429.22" stroke="#4a4a4a" stroke-width="0.75"/>
<line x1="41.80" y1="429.22" x2="45.20" y2="429.22" stroke="#4a4a4a" stroke-width="0.8"/>
<rect x="40.90" y="436.62" width="5.20" height="56.38" fill="url(#chk)" stroke="#1c1c1c" stroke-width="0.8"/>
<line x1="39.70" y1="493.00" x2="39.70" y2="494.50" stroke="#111" stroke-width="0.5"/>
<text x="39.699999999999996" y="498.4" font-family='"Liberation Sans", sans-serif' font-size="3.85" font-weight="bold" text-anchor="middle" fill="#222" stroke="#222" stroke-width="0.2">RPMI-8226</text>
<rect x="54.10" y="482.27" width="4.80" height="10.73" fill="#767676" stroke="#1c1c1c" stroke-width="0.8"/>
<line x1="64.30" y1="427.98" x2="64.30" y2="417.78" stroke="#4a4a4a" stroke-width="0.75"/>
<line x1="62.60" y1="417.78" x2="66.00" y2="417.78" stroke="#4a4a4a" stroke-width="0.8"/>
<rect x="61.70" y="428.38" width="5.20" height="64.62" fill="url(#chk)" stroke="#1c1c1c" stroke-width="0.8"/>
<line x1="60.50" y1="493.00" x2="60.50" y2="494.50" stroke="#111" stroke-width="0.5"/>
<text x="60.5" y="498.4" font-family='"Liberation Sans", sans-serif' font-size="3.85" font-weight="bold" text-anchor="middle" fill="#222" stroke="#222" stroke-width="0.2">MMS1</text>
<rect x="74.90" y="482.27" width="4.80" height="10.73" fill="#767676" stroke="#1c1c1c" stroke-width="0.8"/>
<line x1="85.10" y1="439.78" x2="85.10" y2="429.08" stroke="#4a4a4a" stroke-width="0.75"/>
<line x1="83.40" y1="429.08" x2="86.80" y2="429.08" stroke="#4a4a4a" stroke-width="0.8"/>
<rect x="82.50" y="440.18" width="5.20" height="52.82" fill="url(#chk)" stroke="#1c1c1c" stroke-width="0.8"/>
<line x1="81.30" y1="493.00" x2="81.30" y2="494.50" stroke="#111" stroke-width="0.5"/>
<text x="81.3" y="498.4" font-family='"Liberation Sans", sans-serif' font-size="3.85" font-weight="bold" text-anchor="middle" fill="#222" stroke="#222" stroke-width="0.2">U266</text>
<rect x="95.70" y="482.27" width="4.80" height="10.73" fill="#767676" stroke="#1c1c1c" stroke-width="0.8"/>
<line x1="105.90" y1="427.31" x2="105.90" y2="414.31" stroke="#4a4a4a" stroke-width="0.75"/>
<line x1="104.20" y1="414.31" x2="107.60" y2="414.31" stroke="#4a4a4a" stroke-width="0.8"/>
<rect x="103.30" y="427.71" width="5.20" height="65.29" fill="url(#chk)" stroke="#1c1c1c" stroke-width="0.8"/>
<line x1="102.10" y1="493.00" x2="102.10" y2="494.50" stroke="#111" stroke-width="0.5"/>
<text x="102.10000000000001" y="498.4" font-family='"Liberation Sans", sans-serif' font-size="3.85" font-weight="bold" text-anchor="middle" fill="#222" stroke="#222" stroke-width="0.2">LP-1</text>
<rect x="116.50" y="482.27" width="4.80" height="10.73" fill="#767676" stroke="#1c1c1c" stroke-width="0.8"/>
<line x1="126.70" y1="463.72" x2="126.70" y2="457.42" stroke="#4a4a4a" stroke-width="0.75"/>
<line x1="125.00" y1="457.42" x2="128.40" y2="457.42" stroke="#4a4a4a" stroke-width="0.8"/>
<rect x="124.10" y="464.12" width="5.20" height="28.88" fill="url(#chk)" stroke="#1c1c1c" stroke-width="0.8"/>
<line x1="122.90" y1="493.00" x2="122.90" y2="494.50" stroke="#111" stroke-width="0.5"/>
<text x="122.89999999999999" y="498.4" font-family='"Liberation Sans", sans-serif' font-size="3.85" font-weight="bold" text-anchor="middle" fill="#222" stroke="#222" stroke-width="0.2">OPM2</text>
<rect x="137.30" y="482.27" width="4.80" height="10.73" fill="#767676" stroke="#1c1c1c" stroke-width="0.8"/>
<line x1="147.50" y1="468.28" x2="147.50" y2="464.18" stroke="#4a4a4a" stroke-width="0.75"/>
<line x1="145.80" y1="464.18" x2="149.20" y2="464.18" stroke="#4a4a4a" stroke-width="0.8"/>
<rect x="144.90" y="468.68" width="5.20" height="24.32" fill="url(#chk)" stroke="#1c1c1c" stroke-width="0.8"/>
<line x1="143.70" y1="493.00" x2="143.70" y2="494.50" stroke="#111" stroke-width="0.5"/>
<text x="143.70000000000002" y="498.4" font-family='"Liberation Sans", sans-serif' font-size="3.85" font-weight="bold" text-anchor="middle" fill="#222" stroke="#222" stroke-width="0.2">5T33vt</text>
<text x="94.3" y="406.6" font-family='"Liberation Serif", serif' font-size="5.6" font-weight="normal" text-anchor="middle" fill="#505050" stroke="#505050" stroke-width="0.08">Mcl-1</text>
<rect x="141.50" y="404.90" width="7.00" height="2.20" fill="#767676" stroke="#1c1c1c" stroke-width="1.0"/>
<text x="150.2" y="407.35" font-family='"Liberation Sans", sans-serif' font-size="3.9" font-weight="normal" text-anchor="start" fill="#555" stroke="#555" stroke-width="0.1">Veh</text>
<rect x="141.50" y="411.70" width="7.00" height="2.20" fill="url(#chk)" stroke="#1c1c1c" stroke-width="1.0"/>
<text x="150.2" y="414.15000000000003" font-family='"Liberation Sans", sans-serif' font-size="3.9" font-weight="normal" text-anchor="start" fill="#555" stroke="#555" stroke-width="0.1">Btz</text>
<text x="43.5" y="425.8" font-family='"Liberation Sans", sans-serif' font-size="5" font-weight="normal" text-anchor="middle" fill="#666" stroke="#666" stroke-width="0.1">**</text>
<text x="63.8" y="415.5" font-family='"Liberation Sans", sans-serif' font-size="5" font-weight="normal" text-anchor="middle" fill="#666" stroke="#666" stroke-width="0.1">*</text>
<text x="85" y="427.2" font-family='"Liberation Sans", sans-serif' font-size="5" font-weight="normal" text-anchor="middle" fill="#666" stroke="#666" stroke-width="0.1">*</text>
<text x="126.8" y="454.8" font-family='"Liberation Sans", sans-serif' font-size="5" font-weight="normal" text-anchor="middle" fill="#666" stroke="#666" stroke-width="0.1">*</text>
<text x="147.5" y="461.8" font-family='"Liberation Sans", sans-serif' font-size="5" font-weight="normal" text-anchor="middle" fill="#666" stroke="#666" stroke-width="0.1">*</text>
<line x1="201.00" y1="409.50" x2="201.00" y2="493.70" stroke="#111" stroke-width="0.8"/>
<line x1="200.60" y1="493.30" x2="324.50" y2="493.30" stroke="#111" stroke-width="1.0"/>
<line x1="199.20" y1="493.30" x2="201.00" y2="493.30" stroke="#111" stroke-width="0.6"/>
<text x="198.6" y="494.6" font-family='"Liberation Sans", sans-serif' font-size="3.7" font-weight="bold" text-anchor="end" fill="#111" stroke="#111" stroke-width="0.15">0.0</text>
<line x1="199.20" y1="485.71" x2="201.00" y2="485.71" stroke="#111" stroke-width="0.6"/>
<text x="198.6" y="487.00909090909096" font-family='"Liberation Sans", sans-serif' font-size="3.7" font-weight="bold" text-anchor="end" fill="#111" stroke="#111" stroke-width="0.15">0.1</text>
<line x1="199.20" y1="478.12" x2="201.00" y2="478.12" stroke="#111" stroke-width="0.6"/>
<text x="198.6" y="479.41818181818184" font-family='"Liberation Sans", sans-serif' font-size="3.7" font-weight="bold" text-anchor="end" fill="#111" stroke="#111" stroke-width="0.15">0.2</text>
<line x1="199.20" y1="470.53" x2="201.00" y2="470.53" stroke="#111" stroke-width="0.6"/>
<text x="198.6" y="471.82727272727277" font-family='"Liberation Sans", sans-serif' font-size="3.7" font-weight="bold" text-anchor="end" fill="#111" stroke="#111" stroke-width="0.15">0.3</text>
<line x1="199.20" y1="462.94" x2="201.00" y2="462.94" stroke="#111" stroke-width="0.6"/>
<text x="198.6" y="464.23636363636365" font-family='"Liberation Sans", sans-serif' font-size="3.7" font-weight="bold" text-anchor="end" fill="#111" stroke="#111" stroke-width="0.15">0.4</text>
<line x1="199.20" y1="455.35" x2="201.00" y2="455.35" stroke="#111" stroke-width="0.6"/>
<text x="198.6" y="456.6454545454546" font-family='"Liberation Sans", sans-serif' font-size="3.7" font-weight="bold" text-anchor="end" fill="#111" stroke="#111" stroke-width="0.15">0.5</text>
<line x1="199.20" y1="447.75" x2="201.00" y2="447.75" stroke="#111" stroke-width="0.6"/>
<text x="198.6" y="449.05454545454546" font-family='"Liberation Sans", sans-serif' font-size="3.7" font-weight="bold" text-anchor="end" fill="#111" stroke="#111" stroke-width="0.15">0.6</text>
<line x1="199.20" y1="440.16" x2="201.00" y2="440.16" stroke="#111" stroke-width="0.6"/>
<text x="198.6" y="441.4636363636364" font-family='"Liberation Sans", sans-serif' font-size="3.7" font-weight="bold" text-anchor="end" fill="#111" stroke="#111" stroke-width="0.15">0.7</text>
<line x1="199.20" y1="432.57" x2="201.00" y2="432.57" stroke="#111" stroke-width="0.6"/>
<text x="198.6" y="433.8727272727273" font-family='"Liberation Sans", sans-serif' font-size="3.7" font-weight="bold" text-anchor="end" fill="#111" stroke="#111" stroke-width="0.15">0.8</text>
<line x1="199.20" y1="424.98" x2="201.00" y2="424.98" stroke="#111" stroke-width="0.6"/>
<text x="198.6" y="426.2818181818182" font-family='"Liberation Sans", sans-serif' font-size="3.7" font-weight="bold" text-anchor="end" fill="#111" stroke="#111" stroke-width="0.15">0.9</text>
<line x1="199.20" y1="417.39" x2="201.00" y2="417.39" stroke="#111" stroke-width="0.6"/>
<text x="198.6" y="418.6909090909091" font-family='"Liberation Sans", sans-serif' font-size="3.7" font-weight="bold" text-anchor="end" fill="#111" stroke="#111" stroke-width="0.15">1.0</text>
<line x1="199.20" y1="409.80" x2="201.00" y2="409.80" stroke="#111" stroke-width="0.6"/>
<text x="198.6" y="411.1" font-family='"Liberation Sans", sans-serif' font-size="3.7" font-weight="bold" text-anchor="end" fill="#111" stroke="#111" stroke-width="0.15">1.1</text>
<text x="192.0" y="450.5" font-family='"Liberation Sans", sans-serif' font-size="4.9" font-weight="bold" text-anchor="middle" fill="#3a3a3a" stroke="#3a3a3a" stroke-width="0.15" textLength="73" lengthAdjust="spacingAndGlyphs" transform="rotate(-90 192.0 450.5)">Relative mRNA expression level</text>
<rect x="204.90" y="417.79" width="4.80" height="75.51" fill="#767676" stroke="#1c1c1c" stroke-width="0.8"/>
<line x1="215.20" y1="436.67" x2="215.20" y2="428.42" stroke="#4a4a4a" stroke-width="0.75"/>
<line x1="213.50" y1="428.42" x2="216.90" y2="428.42" stroke="#4a4a4a" stroke-width="0.8"/>
<rect x="212.70" y="437.07" width="5.00" height="56.23" fill="url(#chk)" stroke="#1c1c1c" stroke-width="0.8"/>
<line x1="211.30" y1="493.30" x2="211.30" y2="494.80" stroke="#111" stroke-width="0.5"/>
<text x="211.3" y="498.7" font-family='"Liberation Sans", sans-serif' font-size="3.85" font-weight="bold" text-anchor="middle" fill="#222" stroke="#222" stroke-width="0.2">RPMI-8226</text>
<rect x="225.75" y="417.79" width="4.80" height="75.51" fill="#767676" stroke="#1c1c1c" stroke-width="0.8"/>
<line x1="236.05" y1="429.54" x2="236.05" y2="415.79" stroke="#4a4a4a" stroke-width="0.75"/>
<line x1="234.35" y1="415.79" x2="237.75" y2="415.79" stroke="#4a4a4a" stroke-width="0.8"/>
<rect x="233.55" y="429.94" width="5.00" height="63.36" fill="url(#chk)" stroke="#1c1c1c" stroke-width="0.8"/>
<line x1="232.15" y1="493.30" x2="232.15" y2="494.80" stroke="#111" stroke-width="0.5"/>
<text x="232.15" y="498.7" font-family='"Liberation Sans", sans-serif' font-size="3.85" font-weight="bold" text-anchor="middle" fill="#222" stroke="#222" stroke-width="0.2">MMS1</text>
<rect x="246.60" y="417.79" width="4.80" height="75.51" fill="#767676" stroke="#1c1c1c" stroke-width="0.8"/>
<line x1="256.90" y1="428.78" x2="256.90" y2="415.28" stroke="#4a4a4a" stroke-width="0.75"/>
<line x1="255.20" y1="415.28" x2="258.60" y2="415.28" stroke="#4a4a4a" stroke-width="0.8"/>
<rect x="254.40" y="429.18" width="5.00" height="64.12" fill="url(#chk)" stroke="#1c1c1c" stroke-width="0.8"/>
<line x1="253.00" y1="493.30" x2="253.00" y2="494.80" stroke="#111" stroke-width="0.5"/>
<text x="253.0" y="498.7" font-family='"Liberation Sans", sans-serif' font-size="3.85" font-weight="bold" text-anchor="middle" fill="#222" stroke="#222" stroke-width="0.2">U266</text>
<rect x="267.45" y="417.79" width="4.80" height="75.51" fill="#767676" stroke="#1c1c1c" stroke-width="0.8"/>
<line x1="277.75" y1="441.68" x2="277.75" y2="431.18" stroke="#4a4a4a" stroke-width="0.75"/>
<line x1="276.05" y1="431.18" x2="279.45" y2="431.18" stroke="#4a4a4a" stroke-width="0.8"/>
<rect x="275.25" y="442.08" width="5.00" height="51.22" fill="url(#chk)" stroke="#1c1c1c" stroke-width="0.8"/>
<line x1="273.85" y1="493.30" x2="273.85" y2="494.80" stroke="#111" stroke-width="0.5"/>
<text x="273.85" y="498.7" font-family='"Liberation Sans", sans-serif' font-size="3.85" font-weight="bold" text-anchor="middle" fill="#222" stroke="#222" stroke-width="0.2">LP-1</text>
<rect x="288.30" y="417.79" width="4.80" height="75.51" fill="#767676" stroke="#1c1c1c" stroke-width="0.8"/>
<line x1="298.60" y1="441.68" x2="298.60" y2="433.68" stroke="#4a4a4a" stroke-width="0.75"/>
<line x1="296.90" y1="433.68" x2="300.30" y2="433.68" stroke="#4a4a4a" stroke-width="0.8"/>
<rect x="296.10" y="442.08" width="5.00" height="51.22" fill="url(#chk)" stroke="#1c1c1c" stroke-width="0.8"/>
<line x1="294.70" y1="493.30" x2="294.70" y2="494.80" stroke="#111" stroke-width="0.5"/>
<text x="294.7" y="498.7" font-family='"Liberation Sans", sans-serif' font-size="3.85" font-weight="bold" text-anchor="middle" fill="#222" stroke="#222" stroke-width="0.2">OPM2</text>
<rect x="309.15" y="417.79" width="4.80" height="75.51" fill="#767676" stroke="#1c1c1c" stroke-width="0.8"/>
<line x1="319.45" y1="442.06" x2="319.45" y2="432.31" stroke="#4a4a4a" stroke-width="0.75"/>
<line x1="317.75" y1="432.31" x2="321.15" y2="432.31" stroke="#4a4a4a" stroke-width="0.8"/>
<rect x="316.95" y="442.46" width="5.00" height="50.84" fill="url(#chk)" stroke="#1c1c1c" stroke-width="0.8"/>
<line x1="315.55" y1="493.30" x2="315.55" y2="494.80" stroke="#111" stroke-width="0.5"/>
<text x="315.55" y="498.7" font-family='"Liberation Sans", sans-serif' font-size="3.85" font-weight="bold" text-anchor="middle" fill="#222" stroke="#222" stroke-width="0.2">5T33vt</text>
<text x="259.3" y="407" font-family='"Liberation Serif", serif' font-size="5.6" font-weight="normal" text-anchor="middle" fill="#505050" stroke="#505050" stroke-width="0.08">Bcl-2</text>
<rect x="308.00" y="404.40" width="6.30" height="2.20" fill="#767676" stroke="#1c1c1c" stroke-width="1.0"/>
<text x="316.2" y="406.85" font-family='"Liberation Sans", sans-serif' font-size="3.9" font-weight="normal" text-anchor="start" fill="#555" stroke="#555" stroke-width="0.1">Veh</text>
<rect x="308.00" y="411.10" width="6.30" height="2.20" fill="url(#chk)" stroke="#1c1c1c" stroke-width="1.0"/>
<text x="316.2" y="413.55" font-family='"Liberation Sans", sans-serif' font-size="3.9" font-weight="normal" text-anchor="start" fill="#555" stroke="#555" stroke-width="0.1">Btz</text>
<line x1="379.30" y1="409.70" x2="379.30" y2="494.00" stroke="#111" stroke-width="0.8"/>
<line x1="378.90" y1="493.60" x2="504.00" y2="493.60" stroke="#111" stroke-width="1.0"/>
<line x1="377.50" y1="493.60" x2="379.30" y2="493.60" stroke="#111" stroke-width="0.6"/>
<text x="376.90000000000003" y="494.90000000000003" font-family='"Liberation Sans", sans-serif' font-size="3.7" font-weight="bold" text-anchor="end" fill="#111" stroke="#111" stroke-width="0.15">0.0</text>
<line x1="377.50" y1="488.68" x2="379.30" y2="488.68" stroke="#111" stroke-width="0.6"/>
<text x="376.90000000000003" y="489.9823529411765" font-family='"Liberation Sans", sans-serif' font-size="3.7" font-weight="bold" text-anchor="end" fill="#111" stroke="#111" stroke-width="0.15">0.1</text>
<line x1="377.50" y1="483.76" x2="379.30" y2="483.76" stroke="#111" stroke-width="0.6"/>
<text x="376.90000000000003" y="485.064705882353" font-family='"Liberation Sans", sans-serif' font-size="3.7" font-weight="bold" text-anchor="end" fill="#111" stroke="#111" stroke-width="0.15">0.2</text>
<line x1="377.50" y1="478.85" x2="379.30" y2="478.85" stroke="#111" stroke-width="0.6"/>
<text x="376.90000000000003" y="480.14705882352945" font-family='"Liberation Sans", sans-serif' font-size="3.7" font-weight="bold" text-anchor="end" fill="#111" stroke="#111" stroke-width="0.15">0.3</text>
<line x1="377.50" y1="473.93" x2="379.30" y2="473.93" stroke="#111" stroke-width="0.6"/>
<text x="376.90000000000003" y="475.2294117647059" font-family='"Liberation Sans", sans-serif' font-size="3.7" font-weight="bold" text-anchor="end" fill="#111" stroke="#111" stroke-width="0.15">0.4</text>
<line x1="377.50" y1="469.01" x2="379.30" y2="469.01" stroke="#111" stroke-width="0.6"/>
<text x="376.90000000000003" y="470.31176470588235" font-family='"Liberation Sans", sans-serif' font-size="3.7" font-weight="bold" text-anchor="end" fill="#111" stroke="#111" stroke-width="0.15">0.5</text>
<line x1="377.50" y1="464.09" x2="379.30" y2="464.09" stroke="#111" stroke-width="0.6"/>
<text x="376.90000000000003" y="465.39411764705886" font-family='"Liberation Sans", sans-serif' font-size="3.7" font-weight="bold" text-anchor="end" fill="#111" stroke="#111" stroke-width="0.15">0.6</text>
<line x1="377.50" y1="459.18" x2="379.30" y2="459.18" stroke="#111" stroke-width="0.6"/>
<text x="376.90000000000003" y="460.4764705882353" font-family='"Liberation Sans", sans-serif' font-size="3.7" font-weight="bold" text-anchor="end" fill="#111" stroke="#111" stroke-width="0.15">0.7</text>
<line x1="377.50" y1="454.26" x2="379.30" y2="454.26" stroke="#111" stroke-width="0.6"/>
<text x="376.90000000000003" y="455.55882352941177" font-family='"Liberation Sans", sans-serif' font-size="3.7" font-weight="bold" text-anchor="end" fill="#111" stroke="#111" stroke-width="0.15">0.8</text>
<line x1="377.50" y1="449.34" x2="379.30" y2="449.34" stroke="#111" stroke-width="0.6"/>
<text x="376.90000000000003" y="450.6411764705883" font-family='"Liberation Sans", sans-serif' font-size="3.7" font-weight="bold" text-anchor="end" fill="#111" stroke="#111" stroke-width="0.15">0.9</text>
<line x1="377.50" y1="444.42" x2="379.30" y2="444.42" stroke="#111" stroke-width="0.6"/>
<text x="376.90000000000003" y="445.72352941176473" font-family='"Liberation Sans", sans-serif' font-size="3.7" font-weight="bold" text-anchor="end" fill="#111" stroke="#111" stroke-width="0.15">1.0</text>
<line x1="377.50" y1="439.51" x2="379.30" y2="439.51" stroke="#111" stroke-width="0.6"/>
<text x="376.90000000000003" y="440.8058823529412" font-family='"Liberation Sans", sans-serif' font-size="3.7" font-weight="bold" text-anchor="end" fill="#111" stroke="#111" stroke-width="0.15">1.1</text>
<line x1="377.50" y1="434.59" x2="379.30" y2="434.59" stroke="#111" stroke-width="0.6"/>
<text x="376.90000000000003" y="435.88823529411764" font-family='"Liberation Sans", sans-serif' font-size="3.7" font-weight="bold" text-anchor="end" fill="#111" stroke="#111" stroke-width="0.15">1.2</text>
<line x1="377.50" y1="429.67" x2="379.30" y2="429.67" stroke="#111" stroke-width="0.6"/>
<text x="376.90000000000003" y="430.97058823529414" font-family='"Liberation Sans", sans-serif' font-size="3.7" font-weight="bold" text-anchor="end" fill="#111" stroke="#111" stroke-width="0.15">1.3</text>
<line x1="377.50" y1="424.75" x2="379.30" y2="424.75" stroke="#111" stroke-width="0.6"/>
<text x="376.90000000000003" y="426.0529411764706" font-family='"Liberation Sans", sans-serif' font-size="3.7" font-weight="bold" text-anchor="end" fill="#111" stroke="#111" stroke-width="0.15">1.4</text>
<line x1="377.50" y1="419.84" x2="379.30" y2="419.84" stroke="#111" stroke-width="0.6"/>
<text x="376.90000000000003" y="421.13529411764705" font-family='"Liberation Sans", sans-serif' font-size="3.7" font-weight="bold" text-anchor="end" fill="#111" stroke="#111" stroke-width="0.15">1.5</text>
<line x1="377.50" y1="414.92" x2="379.30" y2="414.92" stroke="#111" stroke-width="0.6"/>
<text x="376.90000000000003" y="416.2176470588235" font-family='"Liberation Sans", sans-serif' font-size="3.7" font-weight="bold" text-anchor="end" fill="#111" stroke="#111" stroke-width="0.15">1.6</text>
<line x1="377.50" y1="410.00" x2="379.30" y2="410.00" stroke="#111" stroke-width="0.6"/>
<text x="376.90000000000003" y="411.3" font-family='"Liberation Sans", sans-serif' font-size="3.7" font-weight="bold" text-anchor="end" fill="#111" stroke="#111" stroke-width="0.15">1.7</text>
<text x="369.6" y="451.2" font-family='"Liberation Sans", sans-serif' font-size="4.9" font-weight="bold" text-anchor="middle" fill="#3a3a3a" stroke="#3a3a3a" stroke-width="0.15" textLength="73" lengthAdjust="spacingAndGlyphs" transform="rotate(-90 369.6 451.2)">Relative mRNA expression level</text>
<rect x="383.20" y="444.82" width="4.90" height="48.78" fill="#767676" stroke="#1c1c1c" stroke-width="0.8"/>
<line x1="393.75" y1="449.34" x2="393.75" y2="442.34" stroke="#4a4a4a" stroke-width="0.75"/>
<line x1="392.05" y1="442.34" x2="395.45" y2="442.34" stroke="#4a4a4a" stroke-width="0.8"/>
<rect x="391.20" y="449.74" width="5.10" height="43.86" fill="url(#chk)" stroke="#1c1c1c" stroke-width="0.8"/>
<line x1="389.75" y1="493.60" x2="389.75" y2="495.10" stroke="#111" stroke-width="0.5"/>
<text x="389.75" y="499.0" font-family='"Liberation Sans", sans-serif' font-size="3.85" font-weight="bold" text-anchor="middle" fill="#222" stroke="#222" stroke-width="0.2">RPMI-8226</text>
<rect x="404.00" y="444.82" width="4.90" height="48.78" fill="#767676" stroke="#1c1c1c" stroke-width="0.8"/>
<line x1="414.55" y1="450.32" x2="414.55" y2="441.07" stroke="#4a4a4a" stroke-width="0.75"/>
<line x1="412.85" y1="441.07" x2="416.25" y2="441.07" stroke="#4a4a4a" stroke-width="0.8"/>
<rect x="412.00" y="450.72" width="5.10" height="42.88" fill="url(#chk)" stroke="#1c1c1c" stroke-width="0.8"/>
<line x1="410.55" y1="493.60" x2="410.55" y2="495.10" stroke="#111" stroke-width="0.5"/>
<text x="410.55" y="499.0" font-family='"Liberation Sans", sans-serif' font-size="3.85" font-weight="bold" text-anchor="middle" fill="#222" stroke="#222" stroke-width="0.2">MMS1</text>
<rect x="424.80" y="444.82" width="4.90" height="48.78" fill="#767676" stroke="#1c1c1c" stroke-width="0.8"/>
<line x1="435.35" y1="449.83" x2="435.35" y2="446.08" stroke="#4a4a4a" stroke-width="0.75"/>
<line x1="433.65" y1="446.08" x2="437.05" y2="446.08" stroke="#4a4a4a" stroke-width="0.8"/>
<rect x="432.80" y="450.23" width="5.10" height="43.37" fill="url(#chk)" stroke="#1c1c1c" stroke-width="0.8"/>
<line x1="431.35" y1="493.60" x2="431.35" y2="495.10" stroke="#111" stroke-width="0.5"/>
<text x="431.35" y="499.0" font-family='"Liberation Sans", sans-serif' font-size="3.85" font-weight="bold" text-anchor="middle" fill="#222" stroke="#222" stroke-width="0.2">U266</text>
<rect x="445.60" y="444.82" width="4.90" height="48.78" fill="#767676" stroke="#1c1c1c" stroke-width="0.8"/>
<line x1="456.15" y1="458.44" x2="456.15" y2="452.94" stroke="#4a4a4a" stroke-width="0.75"/>
<line x1="454.45" y1="452.94" x2="457.85" y2="452.94" stroke="#4a4a4a" stroke-width="0.8"/>
<rect x="453.60" y="458.84" width="5.10" height="34.76" fill="url(#chk)" stroke="#1c1c1c" stroke-width="0.8"/>
<line x1="452.15" y1="493.60" x2="452.15" y2="495.10" stroke="#111" stroke-width="0.5"/>
<text x="452.15000000000003" y="499.0" font-family='"Liberation Sans", sans-serif' font-size="3.85" font-weight="bold" text-anchor="middle" fill="#222" stroke="#222" stroke-width="0.2">LP-1</text>
<rect x="466.40" y="444.82" width="4.90" height="48.78" fill="#767676" stroke="#1c1c1c" stroke-width="0.8"/>
<line x1="476.95" y1="425.24" x2="476.95" y2="413.74" stroke="#4a4a4a" stroke-width="0.75"/>
<line x1="475.25" y1="413.74" x2="478.65" y2="413.74" stroke="#4a4a4a" stroke-width="0.8"/>
<rect x="474.40" y="425.64" width="5.10" height="67.96" fill="url(#chk)" stroke="#1c1c1c" stroke-width="0.8"/>
<line x1="472.95" y1="493.60" x2="472.95" y2="495.10" stroke="#111" stroke-width="0.5"/>
<text x="472.95" y="499.0" font-family='"Liberation Sans", sans-serif' font-size="3.85" font-weight="bold" text-anchor="middle" fill="#222" stroke="#222" stroke-width="0.2">OPM2</text>
<rect x="487.20" y="444.82" width="4.90" height="48.78" fill="#767676" stroke="#1c1c1c" stroke-width="0.8"/>
<line x1="497.75" y1="459.67" x2="497.75" y2="455.92" stroke="#4a4a4a" stroke-width="0.75"/>
<line x1="496.05" y1="455.92" x2="499.45" y2="455.92" stroke="#4a4a4a" stroke-width="0.8"/>
<rect x="495.20" y="460.07" width="5.10" height="33.53" fill="url(#chk)" stroke="#1c1c1c" stroke-width="0.8"/>
<line x1="493.75" y1="493.60" x2="493.75" y2="495.10" stroke="#111" stroke-width="0.5"/>
<text x="493.75" y="499.0" font-family='"Liberation Sans", sans-serif' font-size="3.85" font-weight="bold" text-anchor="middle" fill="#222" stroke="#222" stroke-width="0.2">5T33vt</text>
<text x="441.8" y="406.4" font-family='"Liberation Serif", serif' font-size="5.6" font-weight="normal" text-anchor="middle" fill="#505050" stroke="#505050" stroke-width="0.08">Bcl-xl</text>
<rect x="488.50" y="404.90" width="6.00" height="2.20" fill="#767676" stroke="#1c1c1c" stroke-width="1.0"/>
<text x="497" y="407.35" font-family='"Liberation Sans", sans-serif' font-size="3.9" font-weight="normal" text-anchor="start" fill="#555" stroke="#555" stroke-width="0.1">Veh</text>
<rect x="488.50" y="411.60" width="6.00" height="2.20" fill="url(#chk)" stroke="#1c1c1c" stroke-width="1.0"/>
<text x="497" y="414.05" font-family='"Liberation Sans", sans-serif' font-size="3.9" font-weight="normal" text-anchor="start" fill="#555" stroke="#555" stroke-width="0.1">Btz</text>
</svg>
</body></html>
